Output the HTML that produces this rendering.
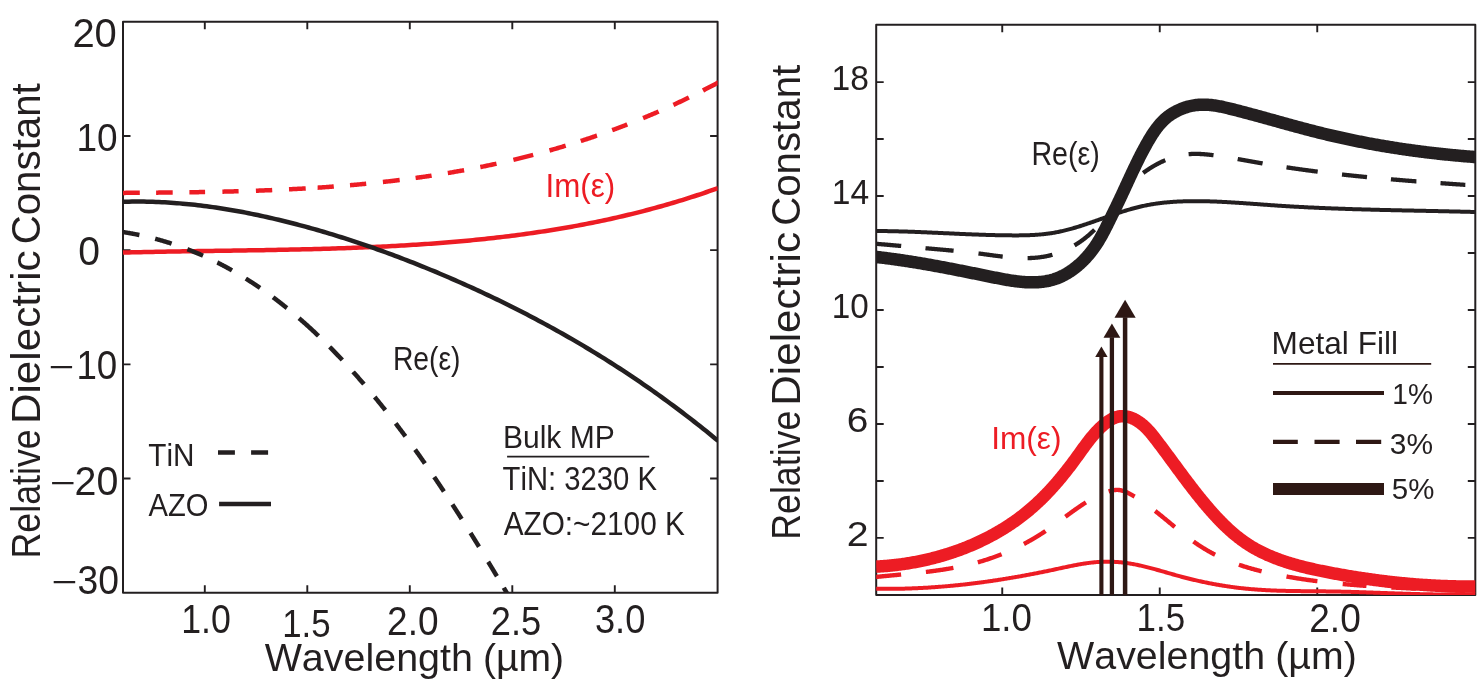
<!DOCTYPE html>
<html><head><meta charset="utf-8"><title>Relative Dielectric Constant</title>
<style>
html,body{margin:0;padding:0;background:#fff;}
body{width:1480px;height:682px;overflow:hidden;}
svg{display:block;font-family:"Liberation Sans",sans-serif;font-kerning:none;will-change:transform;}
text{font-kerning:none;}
</style></head>
<body>
<svg width="1480" height="682" viewBox="0 0 1480 682">
<rect width="1480" height="682" fill="#fff"/>
<rect x="123.0" y="21.8" width="594.6" height="570.9000000000001" fill="none" stroke="#231f20" stroke-width="2.0" stroke-linejoin="round"/>
<path d="M204.80,592.7 v-7.5 M204.80,21.8 v7.5 M307.30,592.7 v-7.5 M307.30,21.8 v7.5 M409.80,592.7 v-7.5 M409.80,21.8 v7.5 M512.30,592.7 v-7.5 M512.30,21.8 v7.5 M614.80,592.7 v-7.5 M614.80,21.8 v7.5 M123.0,135.97 h7.5 M717.6,135.97 h-7.5 M123.0,250.15 h7.5 M717.6,250.15 h-7.5 M123.0,364.33 h7.5 M717.6,364.33 h-7.5 M123.0,478.51 h7.5 M717.6,478.51 h-7.5" stroke="#231f20" stroke-width="1.9" fill="none"/>
<clipPath id="cl"><rect x="123.0" y="21.8" width="594.6" height="570.9000000000001"/></clipPath>
<g clip-path="url(#cl)">
<path d="M123.00,252.56 L125.99,252.49 L128.98,252.41 L131.97,252.34 L134.96,252.27 L137.95,252.20 L140.94,252.13 L143.93,252.06 L146.92,252.00 L149.91,251.94 L152.90,251.88 L155.89,251.82 L158.89,251.76 L161.88,251.71 L164.87,251.65 L167.86,251.60 L170.85,251.54 L173.84,251.49 L176.83,251.44 L179.82,251.39 L182.81,251.35 L185.80,251.30 L188.79,251.25 L191.78,251.20 L194.77,251.16 L197.76,251.11 L200.75,251.07 L203.74,251.03 L206.73,250.98 L209.72,250.94 L212.71,250.90 L215.70,250.85 L218.69,250.81 L221.68,250.77 L224.68,250.72 L227.67,250.68 L230.66,250.64 L233.65,250.59 L236.64,250.55 L239.63,250.51 L242.62,250.46 L245.61,250.42 L248.60,250.37 L251.59,250.32 L254.58,250.28 L257.57,250.23 L260.56,250.18 L263.55,250.13 L266.54,250.08 L269.53,250.02 L272.52,249.97 L275.51,249.92 L278.50,249.86 L281.49,249.80 L284.48,249.74 L287.47,249.68 L290.47,249.62 L293.46,249.56 L296.45,249.49 L299.44,249.43 L302.43,249.36 L305.42,249.29 L308.41,249.21 L311.40,249.14 L314.39,249.06 L317.38,248.98 L320.37,248.90 L323.36,248.82 L326.35,248.73 L329.34,248.64 L332.33,248.55 L335.32,248.46 L338.31,248.36 L341.30,248.26 L344.29,248.16 L347.28,248.06 L350.27,247.95 L353.26,247.84 L356.26,247.72 L359.25,247.61 L362.24,247.48 L365.23,247.36 L368.22,247.23 L371.21,247.10 L374.20,246.97 L377.19,246.83 L380.18,246.69 L383.17,246.54 L386.16,246.40 L389.15,246.24 L392.14,246.09 L395.13,245.93 L398.12,245.76 L401.11,245.59 L404.10,245.42 L407.09,245.24 L410.08,245.06 L413.07,244.87 L416.06,244.68 L419.05,244.49 L422.05,244.29 L425.04,244.08 L428.03,243.87 L431.02,243.66 L434.01,243.44 L437.00,243.22 L439.99,242.99 L442.98,242.75 L445.97,242.51 L448.96,242.27 L451.95,242.02 L454.94,241.76 L457.93,241.50 L460.92,241.24 L463.91,240.97 L466.90,240.69 L469.89,240.40 L472.88,240.12 L475.87,239.82 L478.86,239.52 L481.85,239.21 L484.84,238.90 L487.84,238.58 L490.83,238.25 L493.82,237.92 L496.81,237.58 L499.80,237.23 L502.79,236.88 L505.78,236.52 L508.77,236.15 L511.76,235.78 L514.75,235.40 L517.74,235.01 L520.73,234.61 L523.72,234.21 L526.71,233.80 L529.70,233.38 L532.69,232.96 L535.68,232.52 L538.67,232.08 L541.66,231.63 L544.65,231.18 L547.64,230.71 L550.63,230.24 L553.63,229.76 L556.62,229.27 L559.61,228.77 L562.60,228.26 L565.59,227.75 L568.58,227.23 L571.57,226.69 L574.56,226.15 L577.55,225.60 L580.54,225.04 L583.53,224.47 L586.52,223.90 L589.51,223.31 L592.50,222.71 L595.49,222.11 L598.48,221.49 L601.47,220.87 L604.46,220.23 L607.45,219.59 L610.44,218.93 L613.43,218.27 L616.42,217.59 L619.42,216.91 L622.41,216.21 L625.40,215.51 L628.39,214.79 L631.38,214.07 L634.37,213.33 L637.36,212.58 L640.35,211.82 L643.34,211.06 L646.33,210.28 L649.32,209.48 L652.31,208.68 L655.30,207.87 L658.29,207.04 L661.28,206.21 L664.27,205.36 L667.26,204.50 L670.25,203.63 L673.24,202.75 L676.23,201.86 L679.22,200.95 L682.21,200.03 L685.21,199.10 L688.20,198.16 L691.19,197.20 L694.18,196.24 L697.17,195.26 L700.16,194.27 L703.15,193.26 L706.14,192.25 L709.13,191.22 L712.12,190.17 L715.11,189.12 L718.10,188.05" fill="none" stroke="#ed1c24" stroke-width="4.5" stroke-linejoin="round"/>
<path d="M123.00,201.82 L125.99,201.73 L128.98,201.66 L131.97,201.61 L134.96,201.58 L137.95,201.57 L140.94,201.58 L143.93,201.61 L146.92,201.66 L149.91,201.73 L152.90,201.81 L155.89,201.91 L158.89,202.04 L161.88,202.18 L164.87,202.33 L167.86,202.51 L170.85,202.70 L173.84,202.91 L176.83,203.14 L179.82,203.38 L182.81,203.64 L185.80,203.92 L188.79,204.21 L191.78,204.52 L194.77,204.84 L197.76,205.19 L200.75,205.54 L203.74,205.91 L206.73,206.30 L209.72,206.70 L212.71,207.12 L215.70,207.55 L218.69,208.00 L221.68,208.46 L224.68,208.94 L227.67,209.43 L230.66,209.93 L233.65,210.45 L236.64,210.98 L239.63,211.53 L242.62,212.08 L245.61,212.66 L248.60,213.24 L251.59,213.84 L254.58,214.45 L257.57,215.07 L260.56,215.71 L263.55,216.36 L266.54,217.02 L269.53,217.69 L272.52,218.38 L275.51,219.08 L278.50,219.79 L281.49,220.51 L284.48,221.24 L287.47,221.98 L290.47,222.73 L293.46,223.50 L296.45,224.28 L299.44,225.06 L302.43,225.86 L305.42,226.67 L308.41,227.49 L311.40,228.32 L314.39,229.17 L317.38,230.02 L320.37,230.88 L323.36,231.76 L326.35,232.64 L329.34,233.54 L332.33,234.44 L335.32,235.36 L338.31,236.29 L341.30,237.23 L344.29,238.17 L347.28,239.13 L350.27,240.10 L353.26,241.08 L356.26,242.07 L359.25,243.07 L362.24,244.08 L365.23,245.10 L368.22,246.13 L371.21,247.16 L374.20,248.21 L377.19,249.27 L380.18,250.34 L383.17,251.42 L386.16,252.51 L389.15,253.60 L392.14,254.71 L395.13,255.83 L398.12,256.95 L401.11,258.09 L404.10,259.23 L407.09,260.39 L410.08,261.55 L413.07,262.72 L416.06,263.91 L419.05,265.10 L422.05,266.30 L425.04,267.51 L428.03,268.73 L431.02,269.96 L434.01,271.20 L437.00,272.44 L439.99,273.70 L442.98,274.97 L445.97,276.24 L448.96,277.53 L451.95,278.82 L454.94,280.13 L457.93,281.44 L460.92,282.76 L463.91,284.10 L466.90,285.44 L469.89,286.79 L472.88,288.16 L475.87,289.53 L478.86,290.91 L481.85,292.30 L484.84,293.70 L487.84,295.11 L490.83,296.53 L493.82,297.96 L496.81,299.40 L499.80,300.85 L502.79,302.31 L505.78,303.78 L508.77,305.27 L511.76,306.76 L514.75,308.26 L517.74,309.77 L520.73,311.29 L523.72,312.83 L526.71,314.37 L529.70,315.92 L532.69,317.49 L535.68,319.07 L538.67,320.66 L541.66,322.26 L544.65,323.87 L547.64,325.49 L550.63,327.13 L553.63,328.78 L556.62,330.44 L559.61,332.11 L562.60,333.79 L565.59,335.49 L568.58,337.20 L571.57,338.92 L574.56,340.65 L577.55,342.40 L580.54,344.16 L583.53,345.93 L586.52,347.71 L589.51,349.51 L592.50,351.33 L595.49,353.15 L598.48,354.99 L601.47,356.84 L604.46,358.71 L607.45,360.59 L610.44,362.48 L613.43,364.39 L616.42,366.32 L619.42,368.25 L622.41,370.20 L625.40,372.17 L628.39,374.15 L631.38,376.15 L634.37,378.16 L637.36,380.18 L640.35,382.22 L643.34,384.28 L646.33,386.35 L649.32,388.43 L652.31,390.53 L655.30,392.65 L658.29,394.78 L661.28,396.93 L664.27,399.09 L667.26,401.27 L670.25,403.47 L673.24,405.68 L676.23,407.91 L679.22,410.15 L682.21,412.41 L685.21,414.69 L688.20,416.98 L691.19,419.30 L694.18,421.62 L697.17,423.97 L700.16,426.33 L703.15,428.71 L706.14,431.11 L709.13,433.52 L712.12,435.95 L715.11,438.40 L718.10,440.87" fill="none" stroke="#231f20" stroke-width="4.5" stroke-linejoin="round"/>
<path d="M122.00,192.89 L123.00,192.89 L123.99,192.88 L124.99,192.88 L125.98,192.87 L126.97,192.86 L127.97,192.86 L128.96,192.85 L129.95,192.84 L130.95,192.84 L131.94,192.83 L132.93,192.82 L133.93,192.81 L134.92,192.81 L135.92,192.80 L136.91,192.79 L137.90,192.79 L138.90,192.78 L139.80,192.77 M156.10,192.64 L156.78,192.64 L157.77,192.63 L158.77,192.62 L159.76,192.61 L160.75,192.60 L161.75,192.59 L162.74,192.58 L163.73,192.57 L164.73,192.56 L165.72,192.55 L166.71,192.54 L167.71,192.53 L168.70,192.52 L169.69,192.51 L170.69,192.50 L171.68,192.49 L172.67,192.48 L172.70,192.48 M189.40,192.27 L189.56,192.27 L190.56,192.25 L191.55,192.24 L192.54,192.22 L193.54,192.21 L194.53,192.19 L195.52,192.18 L196.52,192.16 L197.51,192.15 L198.51,192.13 L199.50,192.11 L200.49,192.10 L201.49,192.08 L202.48,192.06 L203.47,192.05 L204.47,192.03 L205.10,192.02 M222.40,191.67 L223.34,191.64 L224.34,191.62 L225.33,191.60 L226.32,191.57 L227.32,191.55 L228.31,191.52 L229.30,191.50 L230.30,191.47 L231.29,191.45 L232.28,191.42 L233.28,191.40 L234.27,191.37 L235.26,191.34 L236.26,191.32 L237.25,191.29 L238.24,191.26 L238.60,191.25 M255.90,190.71 L256.13,190.70 L257.12,190.66 L258.11,190.63 L259.11,190.59 L260.10,190.56 L261.09,190.52 L262.09,190.48 L263.08,190.45 L264.08,190.41 L265.07,190.37 L266.06,190.33 L267.06,190.29 L268.05,190.25 L269.04,190.21 L270.04,190.17 L271.03,190.13 L272.02,190.09 L272.20,190.08 M289.00,189.31 L289.91,189.27 L290.90,189.22 L291.89,189.17 L292.89,189.11 L293.88,189.06 L294.87,189.01 L295.87,188.96 L296.86,188.90 L297.85,188.85 L298.85,188.80 L299.84,188.74 L300.83,188.68 L301.83,188.63 L302.82,188.57 L303.82,188.52 L304.81,188.46 L305.70,188.41 M317.60,187.66 L317.72,187.66 L318.72,187.59 L319.71,187.53 L320.70,187.46 L321.70,187.39 L322.69,187.32 L323.68,187.25 L324.68,187.19 L325.67,187.12 L326.67,187.05 L327.66,186.97 L328.65,186.90 L329.65,186.83 L330.64,186.76 L331.63,186.68 L332.63,186.61 L333.62,186.54 L333.80,186.52 M350.00,185.21 L350.51,185.17 L351.50,185.08 L352.50,184.99 L353.49,184.91 L354.48,184.82 L355.48,184.73 L356.47,184.64 L357.46,184.55 L358.46,184.46 L359.45,184.37 L360.44,184.27 L361.44,184.18 L362.43,184.09 L363.42,183.99 L364.42,183.90 L365.41,183.80 L366.20,183.72 M382.90,181.98 L383.29,181.94 L384.29,181.83 L385.28,181.72 L386.27,181.61 L387.27,181.49 L388.26,181.38 L389.26,181.27 L390.25,181.15 L391.24,181.04 L392.24,180.92 L393.23,180.80 L394.22,180.68 L395.22,180.56 L396.21,180.44 L397.20,180.32 L398.20,180.20 L399.19,180.08 L399.70,180.02 M415.60,177.94 L416.08,177.87 L417.07,177.74 L418.07,177.60 L419.06,177.46 L420.05,177.32 L421.05,177.18 L422.04,177.03 L423.03,176.89 L424.03,176.75 L425.02,176.60 L426.01,176.46 L427.01,176.31 L428.00,176.16 L428.99,176.02 L429.99,175.87 L430.98,175.72 L431.60,175.62 M447.80,173.04 L447.87,173.03 L448.86,172.86 L449.86,172.69 L450.85,172.52 L451.84,172.35 L452.84,172.18 L453.83,172.01 L454.83,171.84 L455.82,171.66 L456.81,171.49 L457.81,171.31 L458.80,171.14 L459.79,170.96 L460.79,170.78 L461.78,170.60 L462.77,170.42 L463.77,170.24 L464.10,170.18 M480.30,167.07 L480.66,167.00 L481.65,166.80 L482.64,166.59 L483.64,166.39 L484.63,166.19 L485.62,165.98 L486.62,165.78 L487.61,165.57 L488.60,165.36 L489.60,165.16 L490.59,164.95 L491.58,164.74 L492.58,164.52 L493.57,164.31 L494.56,164.10 L495.56,163.88 L496.50,163.68 M513.40,159.83 L513.44,159.82 L514.43,159.58 L515.43,159.34 L516.42,159.10 L517.42,158.86 L518.41,158.62 L519.40,158.38 L520.40,158.14 L521.39,157.89 L522.38,157.64 L523.38,157.40 L524.37,157.15 L525.36,156.90 L526.36,156.65 L527.35,156.40 L528.34,156.14 L529.34,155.89 L530.33,155.63 L531.32,155.38 L532.32,155.12 L533.20,154.89 M549.50,150.47 L550.20,150.27 L551.19,149.99 L552.19,149.71 L553.18,149.42 L554.17,149.14 L555.17,148.85 L556.16,148.56 L557.15,148.28 L558.15,147.99 L559.14,147.69 L560.14,147.40 L561.13,147.11 L562.12,146.81 L563.12,146.52 L564.11,146.22 L565.10,145.92 L565.70,145.74 M580.80,141.02 L581.00,140.95 L581.99,140.63 L582.99,140.31 L583.98,139.98 L584.97,139.66 L585.97,139.33 L586.96,139.00 L587.95,138.67 L588.95,138.34 L589.94,138.01 L590.93,137.68 L591.93,137.34 L592.92,137.00 L593.91,136.67 L594.91,136.33 L595.90,135.99 L596.89,135.64 L597.00,135.61 M612.20,130.19 L612.79,129.98 L613.78,129.61 L614.78,129.24 L615.77,128.87 L616.76,128.50 L617.76,128.13 L618.75,127.76 L619.74,127.38 L620.74,127.01 L621.73,126.63 L622.73,126.25 L623.72,125.87 L624.71,125.48 L625.71,125.10 L626.70,124.72 L627.30,124.48 M643.10,118.14 L643.59,117.94 L644.58,117.52 L645.58,117.11 L646.57,116.70 L647.56,116.28 L648.56,115.86 L649.55,115.44 L650.54,115.02 L651.54,114.60 L652.53,114.17 L653.52,113.74 L654.52,113.32 L655.51,112.89 L656.50,112.46 L657.50,112.02 L658.49,111.59 L658.60,111.54 M673.40,104.88 L674.39,104.43 L675.38,103.97 L676.37,103.50 L677.37,103.04 L678.36,102.57 L679.35,102.11 L680.35,101.64 L681.34,101.17 L682.33,100.69 L683.33,100.22 L684.32,99.74 L685.31,99.27 L686.31,98.79 L687.30,98.31 L688.30,97.82 L688.90,97.53 M703.00,90.49 L703.20,90.38 L704.19,89.88 L705.18,89.36 L706.18,88.85 L707.17,88.34 L708.17,87.82 L709.16,87.30 L710.15,86.78 L711.15,86.26 L712.14,85.74 L713.13,85.21 L714.13,84.69 L715.12,84.16 L716.11,83.63 L717.11,83.10 L718.10,82.56 L719.00,82.56" fill="none" stroke="#ed1c24" stroke-width="4.5" stroke-linejoin="round"/>
<path d="M122.00,231.94 L122.25,231.94 L122.96,232.05 L123.67,232.16 L124.38,232.27 L125.08,232.38 L125.79,232.50 L126.50,232.61 L127.20,232.73 L127.91,232.85 L128.61,232.97 L129.32,233.09 L130.02,233.21 L130.72,233.34 L131.42,233.47 L132.12,233.59 L132.82,233.72 L133.52,233.85 L134.22,233.99 L134.92,234.12 L135.61,234.26 L136.31,234.39 L137.00,234.53 L137.70,234.67 L138.39,234.81 L139.08,234.96 L139.40,235.02 M155.20,238.76 L155.48,238.84 L156.15,239.02 L156.82,239.20 L157.49,239.38 L158.16,239.56 L158.84,239.75 L159.50,239.94 L160.17,240.13 L160.84,240.32 L161.51,240.51 L162.18,240.70 L162.84,240.89 L163.51,241.09 L164.17,241.29 L164.83,241.48 L165.50,241.68 L166.16,241.88 L166.82,242.09 L167.48,242.29 L168.14,242.50 L168.80,242.70 L169.46,242.91 L170.12,243.12 L170.77,243.33 L171.43,243.54 L171.60,243.60 M187.40,249.21 L187.60,249.28 L188.24,249.53 L188.87,249.78 L189.51,250.03 L190.14,250.28 L190.78,250.53 L191.41,250.78 L192.04,251.04 L192.68,251.30 L193.31,251.55 L193.94,251.81 L194.57,252.07 L195.20,252.33 L195.83,252.59 L196.46,252.86 L197.08,253.12 L197.71,253.39 L198.34,253.65 L198.96,253.92 L199.59,254.19 L200.21,254.46 L200.83,254.74 L201.46,255.01 L202.08,255.28 L202.70,255.56 L203.00,255.69 M217.30,262.50 L217.40,262.54 L218.00,262.85 L218.60,263.16 L219.21,263.47 L219.81,263.78 L220.41,264.09 L221.01,264.40 L221.61,264.71 L222.21,265.02 L222.81,265.34 L223.41,265.66 L224.00,265.97 L224.60,266.29 L225.20,266.61 L225.79,266.93 L226.39,267.25 L226.98,267.58 L227.57,267.90 L228.17,268.23 L228.76,268.55 L229.35,268.88 L229.94,269.21 L230.53,269.54 L231.12,269.87 L231.71,270.20 L232.00,270.37 M245.80,278.59 L246.21,278.84 L246.78,279.20 L247.36,279.56 L247.93,279.93 L248.50,280.29 L249.06,280.65 L249.63,281.02 L250.20,281.38 L250.77,281.75 L251.34,282.12 L251.90,282.48 L252.47,282.85 L253.03,283.22 L253.60,283.60 L254.16,283.97 L254.72,284.34 L255.29,284.72 L255.85,285.09 L256.41,285.47 L256.97,285.85 L257.53,286.22 L258.09,286.60 L258.65,286.98 L259.21,287.36 L259.76,287.75 L260.10,287.98 M273.10,297.30 L273.50,297.61 L274.04,298.01 L274.59,298.42 L275.13,298.83 L275.67,299.24 L276.21,299.65 L276.74,300.06 L277.28,300.47 L277.82,300.88 L278.36,301.29 L278.89,301.71 L279.43,302.12 L279.96,302.54 L280.50,302.95 L281.03,303.37 L281.57,303.79 L282.10,304.21 L282.63,304.63 L283.16,305.05 L283.70,305.47 L284.23,305.89 L284.76,306.32 L285.29,306.74 L285.81,307.17 L286.34,307.59 L286.87,308.02 L286.90,308.04 M299.00,318.18 L299.37,318.50 L299.88,318.94 L300.39,319.39 L300.91,319.84 L301.42,320.29 L301.93,320.74 L302.44,321.19 L302.95,321.64 L303.46,322.09 L303.97,322.54 L304.48,322.99 L304.99,323.45 L305.50,323.90 L306.00,324.36 L306.51,324.81 L307.02,325.27 L307.52,325.72 L308.03,326.18 L308.53,326.64 L309.04,327.10 L309.54,327.56 L310.04,328.02 L310.54,328.48 L311.05,328.94 L311.55,329.41 L312.05,329.87 L312.55,330.33 L313.05,330.80 L313.55,331.26 L314.05,331.73 L314.54,332.20 L315.04,332.66 L315.54,333.13 L316.03,333.60 L316.53,334.07 L317.03,334.54 L317.52,335.01 L318.01,335.48 L318.50,335.95 M329.70,346.95 L329.73,346.98 L330.21,347.47 L330.69,347.95 L331.17,348.44 L331.65,348.93 L332.13,349.42 L332.61,349.91 L333.09,350.40 L333.57,350.89 L334.04,351.38 L334.52,351.87 L335.00,352.36 L335.47,352.86 L335.95,353.35 L336.42,353.84 L336.90,354.34 L337.37,354.83 L337.85,355.33 L338.32,355.82 L338.79,356.32 L339.26,356.82 L339.74,357.32 L340.21,357.81 L340.68,358.31 L341.15,358.81 L341.62,359.31 L342.09,359.81 L342.30,360.04 M353.10,371.83 L353.21,371.96 L353.67,372.47 L354.13,372.98 L354.58,373.49 L355.04,374.01 L355.49,374.52 L355.95,375.04 L356.41,375.55 L356.86,376.06 L357.31,376.58 L357.77,377.10 L358.22,377.61 L358.67,378.13 L359.13,378.64 L359.58,379.16 L360.03,379.68 L360.48,380.20 L360.93,380.72 L361.38,381.23 L361.83,381.75 L362.28,382.27 L362.73,382.79 L363.17,383.31 L363.62,383.83 L363.90,384.16 M374.70,397.00 L375.11,397.50 L375.55,398.03 L375.98,398.56 L376.42,399.09 L376.85,399.62 L377.29,400.16 L377.72,400.69 L378.16,401.22 L378.59,401.75 L379.02,402.29 L379.46,402.82 L379.89,403.35 L380.32,403.89 L380.75,404.42 L381.18,404.96 L381.61,405.49 L382.04,406.03 L382.47,406.56 L382.90,407.10 L383.33,407.63 L383.76,408.17 L384.19,408.71 L384.61,409.24 L385.04,409.78 L385.30,410.11 M395.70,423.46 L396.01,423.86 L396.43,424.41 L396.84,424.96 L397.26,425.50 L397.68,426.05 L398.09,426.59 L398.51,427.14 L398.92,427.69 L399.33,428.24 L399.75,428.78 L400.16,429.33 L400.57,429.88 L400.99,430.43 L401.40,430.98 L401.81,431.53 L402.22,432.08 L402.63,432.63 L403.05,433.18 L403.46,433.73 L403.87,434.28 L404.28,434.83 L404.69,435.38 L405.09,435.93 L405.40,436.34 M415.10,449.64 L415.21,449.79 L415.61,450.34 L416.01,450.90 L416.40,451.46 L416.80,452.02 L417.20,452.58 L417.60,453.14 L418.00,453.69 L418.40,454.25 L418.79,454.81 L419.19,455.37 L419.59,455.93 L419.98,456.49 L420.38,457.05 L420.78,457.61 L421.17,458.17 L421.57,458.73 L421.96,459.29 L422.36,459.85 L422.75,460.42 L423.14,460.98 L423.54,461.54 L423.93,462.10 L424.32,462.66 L424.71,463.22 L424.90,463.49 M434.20,477.01 L434.43,477.34 L434.81,477.91 L435.19,478.48 L435.58,479.04 L435.96,479.61 L436.35,480.18 L436.73,480.75 L437.11,481.31 L437.49,481.88 L437.88,482.45 L438.26,483.02 L438.64,483.59 L439.02,484.16 L439.40,484.72 L439.78,485.29 L440.16,485.86 L440.54,486.43 L440.92,487.00 L441.30,487.57 L441.68,488.14 L442.06,488.71 L442.44,489.28 L442.82,489.85 L443.20,490.42 L443.57,490.99 L443.90,491.48 M452.40,504.47 L452.56,504.72 L452.94,505.29 L453.31,505.87 L453.68,506.44 L454.05,507.02 L454.42,507.59 L454.79,508.16 L455.16,508.74 L455.53,509.31 L455.90,509.89 L456.27,510.46 L456.64,511.04 L457.00,511.61 L457.37,512.18 L457.74,512.76 L458.11,513.33 L458.48,513.91 L458.84,514.48 L459.21,515.06 L459.58,515.63 L459.94,516.21 L460.31,516.79 L460.68,517.36 L461.04,517.94 L461.41,518.51 L461.70,518.97 M470.50,532.97 L470.84,533.51 L471.19,534.08 L471.55,534.66 L471.91,535.24 L472.27,535.82 L472.63,536.39 L472.99,536.97 L473.35,537.55 L473.71,538.13 L474.06,538.70 L474.42,539.28 L474.78,539.86 L475.14,540.44 L475.49,541.02 L475.85,541.59 L476.21,542.17 L476.56,542.75 L476.92,543.33 L477.28,543.91 L477.63,544.48 L477.99,545.06 L478.34,545.64 L478.70,546.22 L479.00,546.71 M488.20,561.80 L488.22,561.83 L488.57,562.41 L488.92,562.99 L489.27,563.57 L489.62,564.15 L489.97,564.72 L490.32,565.30 L490.67,565.88 L491.02,566.46 L491.37,567.04 L491.72,567.62 L492.06,568.19 L492.41,568.77 L492.76,569.35 L493.11,569.93 L493.46,570.51 L493.80,571.08 L494.15,571.66 L494.50,572.24 L494.85,572.82 L495.19,573.40 L495.54,573.97 L495.89,574.55 L496.23,575.13 L496.58,575.71 L496.90,576.24 M503.80,587.79 L503.82,587.83 L504.17,588.41 L504.51,588.98 L504.85,589.56 L505.19,590.14 L505.54,590.71 L505.88,591.29 L506.22,591.87 L506.57,592.44 L506.91,593.02 L507.25,593.59 L507.50,593.59" fill="none" stroke="#231f20" stroke-width="4.5" stroke-linejoin="round"/>
</g>
<text transform="translate(72.39,47.30) scale(1.0038,1)" font-size="39.83" fill="#231f20">20</text>
<text transform="translate(76.38,150.71) scale(0.9391,1)" font-size="39.41" fill="#231f20">10</text>
<text transform="translate(78.17,265.30) scale(0.9684,1)" font-size="40.40" fill="#231f20">0</text>
<text transform="translate(76.40,379.40) scale(0.9119,1)" font-size="40.25" fill="#231f20">10</text>
<text transform="translate(74.52,494.60) scale(0.9891,1)" font-size="39.83" fill="#231f20">20</text>
<text transform="translate(77.48,593.50) scale(0.9263,1)" font-size="40.25" fill="#231f20">30</text>
<path d="M50.8,367.1 H72.1 M52.1,483.1 H73.5 M53.7,582.1 H75.2" stroke="#231f20" stroke-width="2.1"/>
<text transform="translate(181.18,632.60) scale(0.8835,1)" font-size="40.40" fill="#231f20">1.0</text>
<text transform="translate(282.15,636.50) scale(0.8775,1)" font-size="39.69" fill="#231f20">1.5</text>
<text transform="translate(387.04,635.10) scale(0.9303,1)" font-size="39.83" fill="#231f20">2.0</text>
<text transform="translate(490.87,635.20) scale(0.9079,1)" font-size="39.97" fill="#231f20">2.5</text>
<text transform="translate(594.92,633.30) scale(0.9102,1)" font-size="39.83" fill="#231f20">3.0</text>
<text transform="translate(264.63,671.00) scale(1.0016,1)" font-size="39.39" fill="#231f20">Wavelength</text>
<text transform="translate(482.88,671.00) scale(0.9928,1)" font-size="39.39" fill="#231f20">(µm)</text>
<text transform="translate(40.20,558.53) rotate(-90) scale(0.8852,1)" font-size="40.41" fill="#231f20">Relative</text>
<text transform="translate(40.20,424.07) rotate(-90) scale(1.0460,1)" font-size="40.41" fill="#231f20">Dielectric</text>
<text transform="translate(40.20,244.34) rotate(-90) scale(0.9964,1)" font-size="40.41" fill="#231f20">Constant</text>
<text transform="translate(545.51,196.90) scale(0.9412,1)" font-size="33.28" fill="#ed1c24">Im(ε)</text>
<text transform="translate(392.88,370.40) scale(0.8620,1)" font-size="32.85" fill="#231f20">Re(ε)</text>
<text transform="translate(148.33,466.40) scale(0.9288,1)" font-size="31.98" fill="#231f20">TiN</text>
<text transform="translate(148.44,516.30) scale(0.9204,1)" font-size="31.69" fill="#231f20">AZO</text>
<text transform="translate(502.94,447.70) scale(0.9352,1)" font-size="32.12" fill="#231f20">Bulk MP</text>
<text transform="translate(502.54,489.50) scale(0.8867,1)" font-size="32.99" fill="#231f20">TiN: 3230 K</text>
<text transform="translate(503.64,534.90) scale(0.9067,1)" font-size="32.85" fill="#231f20">AZO:~2100 K</text>
<path d="M507.1,456.6 H649.2" stroke="#231f20" stroke-width="1.7"/>
<path d="M218,452.5 H234.9 M251.1,452.5 H268.1" stroke="#231f20" stroke-width="4.6"/>
<path d="M219.1,504 H271" stroke="#231f20" stroke-width="4.3"/>
<rect x="876.2" y="24.8" width="599.0999999999999" height="570.2" fill="none" stroke="#231f20" stroke-width="2.0" stroke-linejoin="round"/>
<path d="M1002.25,595.0 v-7.5 M1002.25,24.8 v7.5 M1159.75,595.0 v-7.5 M1159.75,24.8 v7.5 M1317.25,595.0 v-7.5 M1317.25,24.8 v7.5 M876.2,537.92 h7.5 M1475.3,537.92 h-7.5 M876.2,480.94 h7.5 M1475.3,480.94 h-7.5 M876.2,423.96 h7.5 M1475.3,423.96 h-7.5 M876.2,366.98 h7.5 M1475.3,366.98 h-7.5 M876.2,310.00 h7.5 M1475.3,310.00 h-7.5 M876.2,253.02 h7.5 M1475.3,253.02 h-7.5 M876.2,196.04 h7.5 M1475.3,196.04 h-7.5 M876.2,139.06 h7.5 M1475.3,139.06 h-7.5 M876.2,82.08 h7.5 M1475.3,82.08 h-7.5" stroke="#231f20" stroke-width="1.9" fill="none"/>
<clipPath id="cr"><rect x="876.2" y="24.8" width="599.0999999999999" height="570.2"/></clipPath>
<g clip-path="url(#cr)">
<path d="M875.95,588.71 L876.97,588.73 L877.99,588.75 L879.01,588.77 L880.03,588.78 L881.05,588.79 L882.06,588.80 L883.08,588.81 L884.10,588.82 L885.12,588.83 L886.13,588.83 L887.15,588.83 L888.17,588.84 L889.18,588.83 L890.20,588.83 L891.21,588.83 L892.23,588.82 L893.25,588.81 L894.26,588.81 L895.28,588.80 L896.29,588.78 L897.30,588.77 L898.32,588.75 L899.33,588.74 L900.35,588.72 L901.36,588.70 L902.37,588.68 L903.39,588.65 L904.40,588.63 L905.41,588.60 L906.43,588.57 L907.44,588.54 L908.45,588.51 L909.46,588.48 L910.48,588.45 L911.49,588.41 L912.50,588.37 L913.51,588.33 L914.52,588.29 L915.53,588.25 L916.54,588.21 L917.55,588.16 L918.56,588.11 L919.57,588.07 L920.58,588.02 L921.59,587.97 L922.60,587.91 L923.61,587.86 L924.62,587.80 L925.63,587.75 L926.64,587.69 L927.65,587.63 L928.66,587.57 L929.66,587.50 L930.67,587.44 L931.68,587.37 L932.69,587.30 L933.69,587.23 L934.70,587.16 L935.71,587.09 L936.72,587.02 L937.72,586.94 L938.73,586.87 L939.74,586.79 L940.74,586.71 L941.75,586.63 L942.75,586.55 L943.76,586.47 L944.77,586.38 L945.77,586.29 L946.78,586.21 L947.78,586.12 L948.79,586.03 L949.79,585.94 L950.80,585.84 L951.80,585.75 L952.80,585.65 L953.81,585.56 L954.81,585.46 L955.82,585.36 L956.82,585.26 L957.82,585.15 L958.83,585.05 L959.83,584.94 L960.83,584.84 L961.84,584.73 L962.84,584.62 L963.84,584.51 L964.84,584.40 L965.85,584.29 L966.85,584.17 L967.85,584.05 L968.85,583.94 L969.85,583.82 L970.86,583.70 L971.86,583.58 L972.86,583.46 L973.86,583.33 L974.86,583.21 L975.86,583.08 L976.86,582.95 L977.86,582.83 L978.86,582.70 L979.86,582.56 L980.86,582.43 L981.86,582.30 L982.86,582.16 L983.86,582.03 L984.86,581.89 L985.86,581.75 L986.86,581.61 L987.86,581.47 L988.86,581.33 L989.86,581.19 L990.86,581.04 L991.86,580.90 L992.85,580.75 L993.85,580.60 L994.85,580.45 L995.85,580.30 L996.85,580.15 L997.85,580.00 L998.84,579.84 L999.84,579.69 L1000.84,579.53 L1001.84,579.37 L1002.83,579.21 L1003.83,579.05 L1004.83,578.89 L1005.83,578.73 L1006.82,578.57 L1007.82,578.40 L1008.82,578.24 L1009.81,578.07 L1010.81,577.90 L1011.80,577.74 L1012.80,577.57 L1013.80,577.39 L1014.79,577.22 L1015.79,577.05 L1016.79,576.88 L1017.78,576.70 L1018.78,576.52 L1019.77,576.35 L1020.77,576.17 L1021.76,575.99 L1022.76,575.81 L1023.75,575.63 L1024.75,575.44 L1025.74,575.26 L1026.74,575.07 L1027.73,574.89 L1028.73,574.70 L1029.72,574.51 L1030.72,574.32 L1031.71,574.13 L1032.71,573.94 L1033.70,573.75 L1034.69,573.56 L1035.69,573.36 L1036.68,573.17 L1037.68,572.97 L1038.67,572.78 L1039.66,572.58 L1040.66,572.38 L1041.65,572.18 L1042.64,571.98 L1043.64,571.78 L1044.63,571.57 L1045.62,571.37 L1046.62,571.17 L1047.61,570.96 L1048.60,570.75 L1049.60,570.55 L1050.59,570.34 L1051.58,570.13 L1052.58,569.92 L1053.57,569.71 L1054.56,569.49 L1055.55,569.28 L1056.55,569.07 L1057.54,568.85 L1058.53,568.64 L1059.52,568.42 L1060.52,568.21 L1061.51,567.99 L1062.50,567.78 L1063.49,567.57 L1064.48,567.35 L1065.48,567.14 L1066.47,566.93 L1067.46,566.72 L1068.45,566.51 L1069.44,566.31 L1070.43,566.10 L1071.43,565.90 L1072.42,565.70 L1073.41,565.51 L1074.40,565.31 L1075.39,565.12 L1076.38,564.93 L1077.38,564.75 L1078.37,564.57 L1079.36,564.39 L1080.35,564.21 L1081.34,564.05 L1082.33,563.88 L1083.32,563.72 L1084.31,563.56 L1085.30,563.41 L1086.30,563.26 L1087.29,563.12 L1088.28,562.99 L1089.27,562.86 L1090.26,562.73 L1091.25,562.62 L1092.24,562.50 L1093.23,562.40 L1094.22,562.30 L1095.21,562.21 L1096.20,562.12 L1097.19,562.04 L1098.18,561.97 L1099.17,561.91 L1100.17,561.85 L1101.16,561.80 L1102.15,561.76 L1103.14,561.73 L1104.13,561.70 L1105.12,561.68 L1106.11,561.67 L1107.10,561.67 L1108.09,561.67 L1109.08,561.68 L1110.07,561.70 L1111.06,561.72 L1112.05,561.76 L1113.04,561.79 L1114.03,561.84 L1115.02,561.89 L1116.01,561.95 L1117.00,562.02 L1117.99,562.10 L1118.98,562.18 L1119.97,562.26 L1120.96,562.36 L1121.95,562.46 L1122.94,562.57 L1123.93,562.69 L1124.92,562.81 L1125.91,562.94 L1126.90,563.08 L1127.89,563.22 L1128.88,563.37 L1129.87,563.53 L1130.86,563.69 L1131.85,563.86 L1132.84,564.04 L1133.83,564.22 L1134.83,564.41 L1135.82,564.60 L1136.81,564.80 L1137.80,565.01 L1138.79,565.22 L1139.78,565.43 L1140.77,565.65 L1141.76,565.88 L1142.75,566.11 L1143.74,566.34 L1144.73,566.58 L1145.72,566.82 L1146.71,567.07 L1147.70,567.32 L1148.69,567.57 L1149.68,567.83 L1150.67,568.09 L1151.66,568.35 L1152.65,568.62 L1153.64,568.88 L1154.63,569.15 L1155.62,569.43 L1156.61,569.70 L1157.61,569.98 L1158.60,570.26 L1159.59,570.54 L1160.58,570.82 L1161.57,571.10 L1162.56,571.38 L1163.55,571.67 L1164.54,571.95 L1165.53,572.23 L1166.52,572.52 L1167.51,572.80 L1168.51,573.09 L1169.50,573.37 L1170.49,573.66 L1171.48,573.94 L1172.47,574.22 L1173.46,574.51 L1174.45,574.79 L1175.45,575.06 L1176.44,575.34 L1177.43,575.62 L1178.42,575.89 L1179.41,576.16 L1180.40,576.43 L1181.40,576.70 L1182.39,576.96 L1183.38,577.22 L1184.37,577.48 L1185.36,577.74 L1186.36,578.00 L1187.35,578.25 L1188.34,578.50 L1189.33,578.75 L1190.33,578.99 L1191.32,579.23 L1192.31,579.47 L1193.30,579.71 L1194.30,579.94 L1195.29,580.18 L1196.28,580.41 L1197.28,580.63 L1198.27,580.86 L1199.26,581.08 L1200.26,581.30 L1201.25,581.52 L1202.24,581.74 L1203.24,581.95 L1204.23,582.16 L1205.22,582.37 L1206.22,582.57 L1207.21,582.77 L1208.21,582.97 L1209.20,583.17 L1210.19,583.36 L1211.19,583.56 L1212.18,583.75 L1213.18,583.93 L1214.17,584.12 L1215.17,584.30 L1216.16,584.48 L1217.16,584.66 L1218.15,584.83 L1219.15,585.00 L1220.14,585.17 L1221.14,585.34 L1222.13,585.50 L1223.13,585.66 L1224.12,585.82 L1225.12,585.98 L1226.11,586.13 L1227.11,586.28 L1228.11,586.43 L1229.10,586.58 L1230.10,586.72 L1231.10,586.86 L1232.09,587.00 L1233.09,587.14 L1234.09,587.27 L1235.08,587.40 L1236.08,587.53 L1237.08,587.65 L1238.07,587.77 L1239.07,587.89 L1240.07,588.01 L1241.07,588.12 L1242.07,588.23 L1243.06,588.34 L1244.06,588.45 L1245.06,588.55 L1246.06,588.65 L1247.06,588.75 L1248.06,588.85 L1249.05,588.94 L1250.05,589.03 L1251.05,589.12 L1252.05,589.20 L1253.05,589.28 L1254.05,589.36 L1255.05,589.44 L1256.05,589.52 L1257.05,589.59 L1258.05,589.66 L1259.05,589.73 L1260.05,589.80 L1261.05,589.86 L1262.05,589.92 L1263.05,589.98 L1264.05,590.04 L1265.05,590.10 L1266.06,590.15 L1267.06,590.20 L1268.06,590.25 L1269.06,590.30 L1270.06,590.35 L1271.06,590.39 L1272.06,590.44 L1273.07,590.48 L1274.07,590.52 L1275.07,590.56 L1276.07,590.59 L1277.08,590.63 L1278.08,590.66 L1279.08,590.69 L1280.08,590.73 L1281.09,590.75 L1282.09,590.78 L1283.09,590.81 L1284.10,590.84 L1285.10,590.86 L1286.10,590.89 L1287.11,590.91 L1288.11,590.93 L1289.11,590.95 L1290.12,590.97 L1291.12,590.99 L1292.13,591.01 L1293.13,591.02 L1294.14,591.04 L1295.14,591.05 L1296.14,591.07 L1297.15,591.08 L1298.15,591.10 L1299.16,591.11 L1300.16,591.12 L1301.17,591.13 L1302.17,591.14 L1303.18,591.16 L1304.19,591.17 L1305.19,591.18 L1306.20,591.19 L1307.20,591.19 L1308.21,591.20 L1309.21,591.21 L1310.22,591.22 L1311.23,591.23 L1312.23,591.24 L1313.24,591.25 L1314.25,591.26 L1315.25,591.27 L1316.26,591.27 L1317.27,591.28 L1318.27,591.29 L1319.28,591.30 L1320.29,591.31 L1321.29,591.32 L1322.30,591.33 L1323.31,591.34 L1324.32,591.35 L1325.32,591.37 L1326.33,591.38 L1327.34,591.39 L1328.35,591.40 L1329.35,591.42 L1330.36,591.43 L1331.37,591.45 L1332.38,591.46 L1333.39,591.48 L1334.39,591.50 L1335.40,591.52 L1336.41,591.53 L1337.42,591.55 L1338.43,591.58 L1339.44,591.60 L1340.45,591.62 L1341.45,591.64 L1342.46,591.66 L1343.47,591.69 L1344.48,591.71 L1345.49,591.74 L1346.50,591.76 L1347.51,591.79 L1348.52,591.82 L1349.53,591.85 L1350.54,591.87 L1351.55,591.90 L1352.56,591.93 L1353.57,591.96 L1354.58,591.99 L1355.59,592.02 L1356.60,592.05 L1357.61,592.08 L1358.62,592.12 L1359.63,592.15 L1360.64,592.18 L1361.65,592.21 L1362.66,592.25 L1363.67,592.28 L1364.68,592.31 L1365.69,592.35 L1366.70,592.38 L1367.71,592.42 L1368.72,592.45 L1369.73,592.49 L1370.74,592.52 L1371.75,592.56 L1372.76,592.59 L1373.78,592.63 L1374.79,592.66 L1375.80,592.70 L1376.81,592.74 L1377.82,592.77 L1378.83,592.81 L1379.84,592.84 L1380.85,592.88 L1381.87,592.92 L1382.88,592.95 L1383.89,592.99 L1384.90,593.03 L1385.91,593.06 L1386.92,593.10 L1387.94,593.13 L1388.95,593.17 L1389.96,593.21 L1390.97,593.24 L1391.98,593.28 L1393.00,593.31 L1394.01,593.35 L1395.02,593.38 L1396.03,593.42 L1397.05,593.45 L1398.06,593.48 L1399.07,593.52 L1400.08,593.55 L1401.09,593.58 L1402.11,593.62 L1403.12,593.65 L1404.13,593.68 L1405.14,593.71 L1406.16,593.75 L1407.17,593.78 L1408.18,593.81 L1409.20,593.84 L1410.21,593.87 L1411.22,593.90 L1412.23,593.93 L1413.25,593.95 L1414.26,593.98 L1415.27,594.01 L1416.29,594.04 L1417.30,594.06 L1418.31,594.09 L1419.32,594.11 L1420.34,594.14 L1421.35,594.16 L1422.36,594.18 L1423.38,594.20 L1424.39,594.23 L1425.40,594.25 L1426.42,594.27 L1427.43,594.29 L1428.44,594.30 L1429.46,594.32 L1430.47,594.34 L1431.48,594.36 L1432.50,594.37 L1433.51,594.38 L1434.52,594.40 L1435.54,594.41 L1436.55,594.42 L1437.56,594.43 L1438.58,594.44 L1439.59,594.45 L1440.60,594.46 L1441.62,594.47 L1442.63,594.47 L1443.65,594.48 L1444.66,594.48 L1445.67,594.49 L1446.69,594.49 L1447.70,594.49 L1448.71,594.49 L1449.73,594.49 L1450.74,594.48 L1451.76,594.48 L1452.77,594.48 L1453.78,594.47 L1454.80,594.46 L1455.81,594.45 L1456.82,594.44 L1457.84,594.43 L1458.85,594.42 L1459.87,594.41 L1460.88,594.39 L1461.89,594.38 L1462.91,594.36 L1463.92,594.34 L1464.93,594.32 L1465.95,594.30 L1466.96,594.28 L1467.98,594.25 L1468.99,594.23 L1470.00,594.20 L1471.02,594.17 L1472.03,594.14 L1473.04,594.11 L1474.06,594.07 L1475.07,594.04 L1476.09,594.00" fill="none" stroke="#ed1c24" stroke-width="4.0" stroke-linejoin="round"/>
<path d="M875.00,576.94 L875.91,576.94 L876.63,576.87 L877.34,576.79 L878.06,576.72 L878.78,576.65 L879.49,576.58 L880.21,576.51 L880.92,576.44 L881.64,576.37 L882.36,576.30 L883.08,576.23 L883.79,576.16 L884.51,576.10 L885.23,576.03 L885.94,575.96 L886.66,575.89 L887.38,575.82 L888.10,575.75 L888.81,575.69 L889.53,575.62 L890.25,575.55 L890.97,575.48 L891.68,575.42 L892.40,575.35 L893.12,575.28 L893.84,575.22 L894.55,575.15 L895.27,575.08 L895.99,575.01 L896.71,574.95 L897.43,574.88 L898.14,574.81 L898.86,574.74 L899.58,574.68 L900.30,574.61 L901.01,574.54 L901.10,574.53 M925.90,571.94 L926.08,571.92 L926.80,571.83 L927.51,571.74 L928.22,571.66 L928.94,571.57 L929.65,571.48 L930.36,571.39 L931.08,571.30 L931.79,571.21 L932.50,571.11 L933.21,571.02 L933.92,570.93 L934.63,570.83 L935.35,570.73 L936.06,570.63 L936.77,570.54 L937.48,570.44 L938.19,570.34 L938.90,570.23 L939.61,570.13 L940.31,570.03 L941.02,569.92 L941.73,569.81 L942.44,569.71 L943.15,569.60 L943.85,569.49 L944.56,569.38 L945.27,569.26 L945.98,569.15 L946.68,569.03 L947.39,568.92 L948.09,568.80 L948.80,568.68 L949.50,568.56 L950.21,568.44 L950.91,568.31 L951.61,568.19 L952.32,568.06 L953.02,567.94 L953.40,567.87 M977.80,562.29 L978.03,562.23 L978.72,562.03 L979.40,561.84 L980.09,561.64 L980.77,561.44 L981.46,561.24 L982.14,561.03 L982.82,560.83 L983.50,560.62 L984.18,560.41 L984.86,560.20 L985.54,559.98 L986.22,559.77 L986.90,559.55 L987.58,559.33 L988.26,559.10 L988.93,558.88 L989.61,558.65 L990.28,558.42 L990.96,558.19 L991.63,557.96 L992.31,557.72 L992.98,557.49 L993.65,557.25 L994.32,557.01 L994.99,556.76 L995.66,556.52 L996.33,556.27 L997.00,556.02 L997.67,555.77 L998.33,555.51 L999.00,555.26 L999.67,555.00 L1000.33,554.74 L1001.00,554.48 L1001.60,554.24 M1023.90,543.95 L1024.39,543.69 L1025.03,543.35 L1025.66,543.01 L1026.29,542.67 L1026.93,542.32 L1027.56,541.98 L1028.19,541.63 L1028.82,541.28 L1029.44,540.93 L1030.07,540.58 L1030.70,540.22 L1031.32,539.86 L1031.95,539.51 L1032.57,539.14 L1033.19,538.78 L1033.81,538.41 L1034.43,538.05 L1035.05,537.68 L1035.67,537.31 L1036.29,536.93 L1036.90,536.56 L1037.52,536.18 L1038.13,535.80 L1038.75,535.42 L1039.36,535.04 L1039.97,534.65 L1040.58,534.26 L1041.19,533.87 L1041.80,533.48 L1042.41,533.09 L1043.01,532.69 L1043.62,532.30 L1044.22,531.90 L1044.82,531.49 L1045.43,531.09 L1045.50,531.04 M1065.40,516.72 L1065.48,516.66 L1066.06,516.23 L1066.65,515.80 L1067.23,515.37 L1067.82,514.94 L1068.40,514.51 L1068.99,514.08 L1069.57,513.65 L1070.16,513.22 L1070.75,512.80 L1071.33,512.37 L1071.92,511.95 L1072.51,511.52 L1073.09,511.10 L1073.68,510.68 L1074.27,510.26 L1074.86,509.84 L1075.45,509.43 L1076.04,509.01 L1076.63,508.60 L1077.22,508.19 L1077.81,507.78 L1078.41,507.37 L1079.00,506.96 L1079.59,506.56 L1080.19,506.15 L1080.79,505.75 L1081.38,505.35 L1081.98,504.96 L1082.58,504.56 L1083.18,504.17 L1083.78,503.78 L1084.38,503.40 L1084.99,503.01 L1085.59,502.63 L1085.90,502.43 M1108.60,491.44 L1109.02,491.31 L1109.69,491.11 L1110.36,490.92 L1111.04,490.74 L1111.71,490.57 L1112.39,490.42 L1113.07,490.28 L1113.75,490.17 L1114.43,490.07 L1115.11,489.99 L1115.79,489.93 L1116.48,489.90 L1117.16,489.89 L1117.84,489.91 L1118.53,489.96 L1119.21,490.04 L1119.90,490.14 L1120.58,490.26 L1121.26,490.41 L1121.95,490.58 L1122.63,490.77 L1123.31,490.98 L1123.99,491.21 L1124.67,491.46 L1125.34,491.73 L1126.02,492.01 L1126.69,492.31 L1127.36,492.62 L1128.03,492.94 L1128.70,493.27 L1129.37,493.62 L1130.03,493.97 L1130.69,494.33 L1131.34,494.70 L1132.00,495.08 L1132.65,495.46 L1133.29,495.84 L1133.94,496.23 L1134.58,496.62 L1134.60,496.63 M1155.10,510.95 L1155.30,511.10 L1155.87,511.55 L1156.43,511.99 L1157.00,512.43 L1157.56,512.88 L1158.12,513.33 L1158.69,513.78 L1159.25,514.23 L1159.81,514.68 L1160.37,515.13 L1160.94,515.58 L1161.50,516.04 L1162.06,516.49 L1162.62,516.95 L1163.18,517.41 L1163.74,517.87 L1164.30,518.33 L1164.86,518.79 L1165.42,519.25 L1165.99,519.71 L1166.55,520.17 L1167.11,520.63 L1167.67,521.09 L1168.23,521.56 L1168.79,522.02 L1169.35,522.48 L1169.91,522.95 L1170.47,523.41 L1171.03,523.87 L1171.59,524.34 L1172.15,524.80 L1172.71,525.26 L1173.27,525.72 L1173.84,526.19 L1174.40,526.65 L1174.80,526.98 M1193.50,541.53 L1193.77,541.73 L1194.35,542.14 L1194.94,542.55 L1195.52,542.95 L1196.11,543.36 L1196.69,543.76 L1197.28,544.16 L1197.87,544.55 L1198.46,544.95 L1199.05,545.34 L1199.64,545.73 L1200.23,546.11 L1200.83,546.50 L1201.42,546.88 L1202.02,547.26 L1202.62,547.63 L1203.21,548.01 L1203.81,548.38 L1204.42,548.75 L1205.02,549.11 L1205.62,549.47 L1206.23,549.83 L1206.83,550.19 L1207.44,550.55 L1208.05,550.90 L1208.66,551.25 L1209.27,551.59 L1209.89,551.94 L1210.50,552.28 L1211.12,552.62 L1211.74,552.95 L1212.36,553.29 L1212.98,553.62 L1213.60,553.95 L1214.23,554.27 L1214.85,554.59 L1215.10,554.72 M1238.90,564.71 L1239.04,564.76 L1239.72,564.99 L1240.40,565.22 L1241.08,565.44 L1241.76,565.67 L1242.44,565.89 L1243.12,566.11 L1243.81,566.33 L1244.49,566.54 L1245.18,566.76 L1245.86,566.97 L1246.55,567.18 L1247.24,567.39 L1247.93,567.60 L1248.62,567.80 L1249.31,568.01 L1250.00,568.21 L1250.69,568.41 L1251.38,568.60 L1252.08,568.80 L1252.77,568.99 L1253.47,569.19 L1254.16,569.38 L1254.86,569.57 L1255.56,569.75 L1256.26,569.94 L1256.96,570.12 L1257.65,570.30 L1258.35,570.48 L1259.06,570.66 L1259.76,570.84 L1260.46,571.02 L1261.16,571.19 L1261.60,571.30 M1286.50,576.50 L1286.69,576.54 L1287.41,576.66 L1288.12,576.79 L1288.83,576.91 L1289.54,577.04 L1290.25,577.16 L1290.97,577.28 L1291.68,577.41 L1292.39,577.53 L1293.10,577.65 L1293.81,577.76 L1294.53,577.88 L1295.24,578.00 L1295.95,578.11 L1296.66,578.23 L1297.37,578.34 L1298.09,578.46 L1298.80,578.57 L1299.51,578.68 L1300.22,578.79 L1300.93,578.90 L1301.65,579.01 L1302.36,579.12 L1303.07,579.22 L1303.78,579.33 L1304.49,579.44 L1305.21,579.54 L1305.92,579.64 L1306.63,579.75 L1307.34,579.85 L1308.05,579.95 L1308.77,580.05 L1309.48,580.15 L1310.19,580.25 L1310.90,580.35 L1311.61,580.44 L1312.32,580.54 L1313.04,580.63 L1313.75,580.73 L1314.46,580.82 L1315.17,580.92 L1315.88,581.01 L1316.59,581.10 L1317.31,581.19 L1317.40,581.20 M1342.70,583.98 L1342.93,584.00 L1343.65,584.06 L1344.36,584.13 L1345.07,584.19 L1345.78,584.26 L1346.49,584.32 L1347.21,584.39 L1347.92,584.45 L1348.63,584.51 L1349.34,584.57 L1350.05,584.63 L1350.77,584.70 L1351.48,584.76 L1352.19,584.81 L1352.90,584.87 L1353.61,584.93 L1354.33,584.99 L1355.04,585.05 L1355.75,585.11 L1356.46,585.16 L1357.18,585.22 L1357.89,585.27 L1358.60,585.33 L1359.31,585.38 L1360.03,585.44 L1360.74,585.49 L1361.45,585.54 L1362.16,585.60 L1362.88,585.65 L1363.59,585.70 L1364.30,585.75 L1365.01,585.80 L1365.73,585.85 L1366.44,585.90 L1366.50,585.91 M1391.40,587.43 L1391.40,587.43 L1392.11,587.47 L1392.83,587.51 L1393.54,587.55 L1394.26,587.58 L1394.97,587.62 L1395.68,587.66 L1396.40,587.70 L1397.11,587.73 L1397.83,587.77 L1398.54,587.81 L1399.26,587.84 L1399.97,587.88 L1400.68,587.91 L1401.40,587.95 L1402.11,587.98 L1402.83,588.02 L1403.54,588.05 L1404.26,588.09 L1404.97,588.12 L1405.69,588.16 L1406.40,588.19 L1407.12,588.23 L1407.83,588.26 L1408.55,588.29 L1409.26,588.33 L1409.98,588.36 L1410.69,588.39 L1411.41,588.43 L1412.12,588.46 L1412.84,588.49 L1413.55,588.53 L1414.27,588.56 L1414.98,588.59 L1415.70,588.63 L1416.00,588.64 M1440.50,589.75 L1440.78,589.76 L1441.50,589.79 L1442.21,589.82 L1442.93,589.86 L1443.65,589.89 L1444.37,589.92 L1445.09,589.96 L1445.80,589.99 L1446.52,590.03 L1447.24,590.06 L1447.96,590.09 L1448.68,590.13 L1449.40,590.16 L1450.11,590.20 L1450.83,590.23 L1451.55,590.27 L1452.27,590.30 L1452.99,590.34 L1453.71,590.37 L1454.43,590.41 L1455.15,590.44 L1455.87,590.48 L1456.59,590.51 L1457.30,590.55 L1458.02,590.59 L1458.74,590.62 L1459.46,590.66 L1460.18,590.70 L1460.90,590.73 L1461.62,590.77 L1462.34,590.81 L1463.06,590.85 L1463.78,590.89 L1464.50,590.92 L1465.00,590.95" fill="none" stroke="#ed1c24" stroke-width="4.4" stroke-linejoin="round"/>
<path d="M875.97,566.63 L877.17,566.57 L878.36,566.50 L879.56,566.43 L880.75,566.36 L881.95,566.28 L883.14,566.19 L884.34,566.10 L885.53,566.01 L886.72,565.91 L887.92,565.80 L889.11,565.69 L890.31,565.58 L891.50,565.46 L892.70,565.33 L893.89,565.20 L895.08,565.07 L896.27,564.93 L897.47,564.79 L898.66,564.64 L899.85,564.48 L901.04,564.32 L902.23,564.16 L903.42,563.99 L904.61,563.82 L905.80,563.64 L906.99,563.46 L908.17,563.27 L909.36,563.07 L910.55,562.88 L911.73,562.67 L912.92,562.46 L914.10,562.25 L915.28,562.03 L916.46,561.81 L917.64,561.58 L918.82,561.35 L920.00,561.11 L921.18,560.87 L922.36,560.62 L923.53,560.36 L924.71,560.11 L925.88,559.84 L927.06,559.58 L928.23,559.30 L929.40,559.02 L930.57,558.74 L931.73,558.45 L932.90,558.16 L934.06,557.86 L935.23,557.56 L936.39,557.25 L937.55,556.93 L938.71,556.62 L939.87,556.29 L941.02,555.96 L942.18,555.63 L943.33,555.29 L944.48,554.95 L945.63,554.60 L946.78,554.24 L947.92,553.88 L949.07,553.52 L950.21,553.15 L951.35,552.77 L952.49,552.39 L953.63,552.01 L954.76,551.62 L955.90,551.22 L957.03,550.82 L958.16,550.42 L959.29,550.01 L960.41,549.59 L961.53,549.17 L962.65,548.75 L963.77,548.32 L964.89,547.88 L966.00,547.44 L967.12,546.99 L968.23,546.54 L969.33,546.08 L970.44,545.62 L971.54,545.16 L972.64,544.68 L973.74,544.21 L974.84,543.72 L975.93,543.24 L977.02,542.74 L978.11,542.24 L979.19,541.74 L980.28,541.23 L981.36,540.72 L982.43,540.20 L983.51,539.68 L984.58,539.15 L985.65,538.61 L986.72,538.07 L987.78,537.53 L988.84,536.98 L989.90,536.42 L990.95,535.86 L992.01,535.29 L993.06,534.72 L994.10,534.15 L995.14,533.56 L996.18,532.98 L997.22,532.38 L998.25,531.79 L999.28,531.18 L1000.31,530.58 L1001.34,529.96 L1002.36,529.34 L1003.37,528.72 L1004.39,528.09 L1005.40,527.46 L1006.41,526.82 L1007.41,526.17 L1008.41,525.52 L1009.41,524.87 L1010.40,524.20 L1011.39,523.54 L1012.38,522.87 L1013.36,522.19 L1014.34,521.51 L1015.31,520.82 L1016.29,520.13 L1017.25,519.43 L1018.22,518.72 L1019.18,518.02 L1020.13,517.30 L1021.09,516.58 L1022.04,515.86 L1022.98,515.13 L1023.92,514.39 L1024.86,513.65 L1025.79,512.90 L1026.72,512.15 L1027.65,511.39 L1028.57,510.63 L1029.48,509.86 L1030.39,509.09 L1031.30,508.31 L1032.21,507.53 L1033.11,506.74 L1034.00,505.94 L1034.89,505.14 L1035.78,504.33 L1036.66,503.52 L1037.54,502.71 L1038.42,501.89 L1039.29,501.06 L1040.15,500.23 L1041.01,499.40 L1041.87,498.56 L1042.73,497.71 L1043.58,496.86 L1044.42,496.01 L1045.26,495.15 L1046.10,494.29 L1046.94,493.42 L1047.77,492.55 L1048.59,491.68 L1049.42,490.80 L1050.24,489.91 L1051.05,489.03 L1051.86,488.14 L1052.67,487.25 L1053.47,486.35 L1054.27,485.45 L1055.07,484.54 L1055.86,483.64 L1056.65,482.73 L1057.44,481.81 L1058.22,480.90 L1059.00,479.98 L1059.78,479.05 L1060.55,478.13 L1061.32,477.20 L1062.08,476.27 L1062.85,475.33 L1063.61,474.40 L1064.36,473.46 L1065.11,472.52 L1065.86,471.58 L1066.61,470.63 L1067.35,469.68 L1068.09,468.74 L1068.83,467.78 L1069.56,466.83 L1070.29,465.88 L1071.01,464.92 L1071.74,463.96 L1072.46,463.00 L1073.18,462.04 L1073.89,461.08 L1074.60,460.11 L1075.31,459.15 L1076.02,458.18 L1076.72,457.21 L1077.42,456.25 L1078.12,455.28 L1078.82,454.31 L1079.51,453.34 L1080.21,452.37 L1080.90,451.40 L1081.60,450.43 L1082.29,449.46 L1082.99,448.50 L1083.69,447.53 L1084.39,446.57 L1085.10,445.61 L1085.81,444.65 L1086.53,443.69 L1087.25,442.74 L1087.97,441.78 L1088.71,440.84 L1089.45,439.89 L1090.20,438.95 L1090.95,438.02 L1091.72,437.09 L1092.49,436.16 L1093.28,435.24 L1094.08,434.32 L1094.88,433.41 L1095.70,432.51 L1096.54,431.61 L1097.38,430.72 L1098.24,429.83 L1099.11,428.96 L1100.00,428.09 L1100.90,427.23 L1101.82,426.38 L1102.75,425.54 L1103.69,424.73 L1104.65,423.94 L1105.62,423.16 L1106.60,422.42 L1107.59,421.70 L1108.59,421.02 L1109.60,420.36 L1110.62,419.75 L1111.65,419.17 L1112.69,418.64 L1113.74,418.15 L1114.79,417.70 L1115.86,417.31 L1116.93,416.97 L1118.00,416.68 L1119.08,416.45 L1120.17,416.28 L1121.27,416.17 L1122.36,416.13 L1123.46,416.15 L1124.56,416.23 L1125.67,416.36 L1126.77,416.55 L1127.87,416.79 L1128.96,417.08 L1130.06,417.42 L1131.14,417.81 L1132.22,418.24 L1133.29,418.72 L1134.35,419.23 L1135.40,419.78 L1136.44,420.37 L1137.47,420.99 L1138.48,421.64 L1139.47,422.33 L1140.45,423.04 L1141.41,423.77 L1142.35,424.53 L1143.27,425.32 L1144.17,426.12 L1145.06,426.94 L1145.93,427.78 L1146.78,428.63 L1147.61,429.50 L1148.44,430.39 L1149.25,431.29 L1150.05,432.20 L1150.84,433.13 L1151.61,434.06 L1152.38,435.00 L1153.15,435.95 L1153.90,436.90 L1154.65,437.86 L1155.40,438.83 L1156.14,439.79 L1156.88,440.76 L1157.62,441.73 L1158.35,442.70 L1159.09,443.67 L1159.82,444.64 L1160.55,445.61 L1161.28,446.58 L1162.01,447.55 L1162.73,448.53 L1163.46,449.50 L1164.18,450.47 L1164.91,451.44 L1165.63,452.42 L1166.35,453.39 L1167.07,454.36 L1167.79,455.34 L1168.51,456.31 L1169.23,457.28 L1169.95,458.26 L1170.66,459.23 L1171.38,460.20 L1172.09,461.18 L1172.81,462.15 L1173.53,463.12 L1174.24,464.09 L1174.96,465.07 L1175.67,466.04 L1176.39,467.01 L1177.10,467.98 L1177.81,468.95 L1178.53,469.92 L1179.25,470.89 L1179.96,471.85 L1180.68,472.82 L1181.39,473.79 L1182.11,474.75 L1182.83,475.72 L1183.55,476.68 L1184.27,477.64 L1184.99,478.61 L1185.71,479.57 L1186.43,480.53 L1187.15,481.49 L1187.87,482.44 L1188.60,483.40 L1189.33,484.35 L1190.05,485.31 L1190.78,486.26 L1191.51,487.21 L1192.24,488.16 L1192.98,489.11 L1193.71,490.05 L1194.45,491.00 L1195.19,491.94 L1195.93,492.88 L1196.67,493.82 L1197.41,494.76 L1198.16,495.70 L1198.91,496.63 L1199.66,497.56 L1200.41,498.49 L1201.17,499.42 L1201.92,500.35 L1202.68,501.27 L1203.44,502.20 L1204.21,503.12 L1204.98,504.03 L1205.75,504.95 L1206.52,505.86 L1207.30,506.77 L1208.08,507.68 L1208.86,508.59 L1209.64,509.49 L1210.43,510.39 L1211.22,511.29 L1212.02,512.19 L1212.81,513.08 L1213.62,513.97 L1214.42,514.86 L1215.23,515.74 L1216.04,516.62 L1216.86,517.50 L1217.68,518.37 L1218.50,519.23 L1219.33,520.10 L1220.16,520.96 L1220.99,521.81 L1221.83,522.66 L1222.67,523.51 L1223.52,524.35 L1224.37,525.18 L1225.23,526.01 L1226.09,526.83 L1226.96,527.65 L1227.83,528.46 L1228.70,529.27 L1229.58,530.07 L1230.46,530.87 L1231.35,531.65 L1232.25,532.44 L1233.15,533.21 L1234.05,533.98 L1234.96,534.74 L1235.87,535.49 L1236.79,536.24 L1237.72,536.98 L1238.65,537.71 L1239.58,538.43 L1240.52,539.15 L1241.47,539.85 L1242.42,540.55 L1243.38,541.24 L1244.35,541.92 L1245.32,542.60 L1246.29,543.26 L1247.27,543.92 L1248.26,544.56 L1249.26,545.20 L1250.26,545.83 L1251.26,546.45 L1252.27,547.05 L1253.29,547.65 L1254.32,548.25 L1255.35,548.83 L1256.38,549.40 L1257.42,549.97 L1258.47,550.52 L1259.52,551.07 L1260.57,551.61 L1261.64,552.14 L1262.70,552.67 L1263.77,553.18 L1264.85,553.69 L1265.93,554.19 L1267.02,554.68 L1268.11,555.16 L1269.20,555.64 L1270.30,556.11 L1271.40,556.57 L1272.51,557.03 L1273.62,557.47 L1274.74,557.91 L1275.85,558.35 L1276.98,558.78 L1278.10,559.20 L1279.23,559.61 L1280.37,560.02 L1281.50,560.42 L1282.64,560.81 L1283.79,561.20 L1284.93,561.58 L1286.08,561.96 L1287.23,562.33 L1288.39,562.70 L1289.55,563.06 L1290.71,563.41 L1291.87,563.76 L1293.04,564.10 L1294.20,564.44 L1295.37,564.77 L1296.55,565.10 L1297.72,565.42 L1298.90,565.74 L1300.07,566.05 L1301.25,566.36 L1302.44,566.66 L1303.62,566.96 L1304.80,567.26 L1305.99,567.55 L1307.18,567.84 L1308.37,568.12 L1309.55,568.40 L1310.75,568.67 L1311.94,568.94 L1313.13,569.21 L1314.32,569.48 L1315.52,569.74 L1316.71,570.00 L1317.91,570.25 L1319.10,570.50 L1320.30,570.75 L1321.49,570.99 L1322.69,571.24 L1323.88,571.48 L1325.08,571.71 L1326.27,571.95 L1327.47,572.18 L1328.66,572.41 L1329.86,572.64 L1331.05,572.87 L1332.24,573.09 L1333.43,573.31 L1334.63,573.53 L1335.82,573.75 L1337.01,573.97 L1338.19,574.18 L1339.38,574.40 L1340.57,574.61 L1341.76,574.82 L1342.94,575.02 L1344.13,575.23 L1345.31,575.44 L1346.49,575.64 L1347.68,575.84 L1348.86,576.04 L1350.04,576.24 L1351.22,576.43 L1352.40,576.62 L1353.58,576.82 L1354.76,577.01 L1355.94,577.19 L1357.12,577.38 L1358.30,577.57 L1359.48,577.75 L1360.65,577.93 L1361.83,578.11 L1363.01,578.29 L1364.18,578.46 L1365.36,578.64 L1366.53,578.81 L1367.71,578.98 L1368.88,579.15 L1370.06,579.31 L1371.23,579.48 L1372.41,579.64 L1373.58,579.80 L1374.75,579.96 L1375.93,580.12 L1377.10,580.27 L1378.27,580.43 L1379.45,580.58 L1380.62,580.73 L1381.79,580.88 L1382.97,581.02 L1384.14,581.17 L1385.31,581.31 L1386.49,581.45 L1387.66,581.59 L1388.83,581.73 L1390.01,581.86 L1391.18,581.99 L1392.35,582.13 L1393.53,582.25 L1394.70,582.38 L1395.87,582.51 L1397.05,582.63 L1398.22,582.75 L1399.40,582.87 L1400.57,582.99 L1401.75,583.11 L1402.92,583.22 L1404.10,583.34 L1405.28,583.45 L1406.45,583.56 L1407.63,583.66 L1408.81,583.77 L1409.99,583.87 L1411.17,583.97 L1412.34,584.07 L1413.52,584.17 L1414.70,584.26 L1415.88,584.36 L1417.07,584.45 L1418.25,584.54 L1419.43,584.63 L1420.61,584.71 L1421.80,584.80 L1422.98,584.88 L1424.17,584.96 L1425.35,585.04 L1426.54,585.11 L1427.72,585.19 L1428.91,585.26 L1430.10,585.33 L1431.29,585.40 L1432.48,585.47 L1433.67,585.53 L1434.86,585.59 L1436.06,585.65 L1437.25,585.71 L1438.45,585.77 L1439.64,585.83 L1440.84,585.88 L1442.04,585.93 L1443.24,585.98 L1444.44,586.03 L1445.64,586.07 L1446.84,586.11 L1448.04,586.16 L1449.25,586.20 L1450.45,586.23 L1451.66,586.27 L1452.86,586.30 L1454.07,586.33 L1455.28,586.36 L1456.49,586.39 L1457.71,586.42 L1458.92,586.44 L1460.14,586.46 L1461.35,586.48 L1462.57,586.50 L1463.79,586.51 L1465.01,586.53 L1466.23,586.54 L1467.46,586.55 L1468.68,586.56 L1469.91,586.56 L1471.13,586.56 L1472.36,586.57 L1473.60,586.57 L1474.83,586.56 L1476.06,586.56" fill="none" stroke="#ed1c24" stroke-width="12.5" stroke-linejoin="round"/>
<path d="M875.94,231.02 L876.95,231.02 L877.95,231.03 L878.96,231.03 L879.96,231.04 L880.97,231.05 L881.97,231.06 L882.98,231.07 L883.98,231.08 L884.99,231.09 L886.00,231.10 L887.00,231.12 L888.01,231.13 L889.02,231.15 L890.03,231.17 L891.03,231.19 L892.04,231.21 L893.05,231.23 L894.06,231.25 L895.07,231.28 L896.08,231.30 L897.09,231.32 L898.10,231.35 L899.11,231.38 L900.12,231.40 L901.13,231.43 L902.14,231.46 L903.15,231.49 L904.17,231.52 L905.18,231.56 L906.19,231.59 L907.20,231.62 L908.21,231.65 L909.23,231.69 L910.24,231.72 L911.25,231.76 L912.27,231.80 L913.28,231.83 L914.29,231.87 L915.31,231.91 L916.32,231.95 L917.33,231.99 L918.35,232.03 L919.36,232.07 L920.38,232.11 L921.39,232.15 L922.40,232.19 L923.42,232.23 L924.43,232.28 L925.45,232.32 L926.46,232.36 L927.48,232.41 L928.49,232.45 L929.51,232.50 L930.52,232.54 L931.54,232.59 L932.56,232.63 L933.57,232.68 L934.59,232.72 L935.60,232.77 L936.62,232.81 L937.63,232.86 L938.65,232.91 L939.66,232.95 L940.68,233.00 L941.70,233.05 L942.71,233.09 L943.73,233.14 L944.74,233.19 L945.76,233.23 L946.77,233.28 L947.79,233.33 L948.81,233.37 L949.82,233.42 L950.84,233.47 L951.85,233.51 L952.87,233.56 L953.88,233.61 L954.90,233.65 L955.92,233.70 L956.93,233.74 L957.95,233.79 L958.96,233.83 L959.98,233.88 L960.99,233.92 L962.01,233.97 L963.02,234.01 L964.04,234.05 L965.05,234.10 L966.06,234.14 L967.08,234.18 L968.09,234.23 L969.11,234.27 L970.12,234.31 L971.13,234.35 L972.15,234.39 L973.16,234.43 L974.18,234.47 L975.19,234.51 L976.20,234.54 L977.21,234.58 L978.23,234.62 L979.24,234.66 L980.25,234.69 L981.26,234.73 L982.28,234.76 L983.29,234.79 L984.30,234.83 L985.31,234.86 L986.32,234.89 L987.33,234.92 L988.34,234.95 L989.35,234.98 L990.36,235.01 L991.37,235.04 L992.38,235.06 L993.39,235.09 L994.40,235.11 L995.41,235.14 L996.42,235.16 L997.42,235.18 L998.43,235.20 L999.44,235.22 L1000.45,235.24 L1001.45,235.26 L1002.46,235.27 L1003.47,235.29 L1004.47,235.30 L1005.48,235.32 L1006.48,235.33 L1007.49,235.34 L1008.49,235.35 L1009.50,235.36 L1010.50,235.37 L1011.51,235.37 L1012.51,235.38 L1013.51,235.38 L1014.51,235.38 L1015.52,235.38 L1016.52,235.38 L1017.52,235.38 L1018.52,235.38 L1019.52,235.37 L1020.52,235.36 L1021.52,235.35 L1022.52,235.33 L1023.52,235.31 L1024.52,235.29 L1025.51,235.27 L1026.51,235.24 L1027.51,235.21 L1028.51,235.18 L1029.50,235.14 L1030.50,235.10 L1031.49,235.06 L1032.49,235.01 L1033.48,234.96 L1034.47,234.90 L1035.47,234.84 L1036.46,234.78 L1037.45,234.71 L1038.44,234.63 L1039.44,234.56 L1040.43,234.47 L1041.42,234.38 L1042.41,234.29 L1043.40,234.19 L1044.38,234.08 L1045.37,233.97 L1046.36,233.85 L1047.35,233.73 L1048.33,233.60 L1049.32,233.47 L1050.30,233.33 L1051.29,233.18 L1052.27,233.02 L1053.26,232.86 L1054.24,232.69 L1055.22,232.52 L1056.20,232.34 L1057.18,232.15 L1058.16,231.95 L1059.14,231.75 L1060.12,231.54 L1061.10,231.33 L1062.08,231.11 L1063.06,230.88 L1064.03,230.65 L1065.01,230.41 L1065.99,230.17 L1066.96,229.92 L1067.94,229.67 L1068.91,229.41 L1069.89,229.14 L1070.86,228.88 L1071.84,228.60 L1072.81,228.33 L1073.78,228.04 L1074.76,227.76 L1075.73,227.47 L1076.70,227.18 L1077.67,226.88 L1078.64,226.58 L1079.62,226.27 L1080.59,225.97 L1081.56,225.65 L1082.53,225.34 L1083.50,225.02 L1084.47,224.71 L1085.44,224.38 L1086.41,224.06 L1087.38,223.73 L1088.35,223.40 L1089.32,223.07 L1090.28,222.74 L1091.25,222.41 L1092.22,222.07 L1093.19,221.74 L1094.16,221.40 L1095.13,221.06 L1096.10,220.72 L1097.06,220.38 L1098.03,220.03 L1099.00,219.69 L1099.97,219.35 L1100.94,219.01 L1101.90,218.66 L1102.87,218.32 L1103.84,217.98 L1104.81,217.63 L1105.78,217.29 L1106.75,216.95 L1107.71,216.61 L1108.68,216.27 L1109.65,215.93 L1110.62,215.59 L1111.59,215.26 L1112.56,214.92 L1113.53,214.59 L1114.50,214.26 L1115.47,213.93 L1116.44,213.60 L1117.41,213.27 L1118.38,212.95 L1119.35,212.63 L1120.32,212.31 L1121.29,212.00 L1122.26,211.68 L1123.23,211.37 L1124.20,211.07 L1125.18,210.76 L1126.15,210.47 L1127.12,210.17 L1128.09,209.88 L1129.07,209.59 L1130.04,209.31 L1131.02,209.03 L1131.99,208.75 L1132.97,208.48 L1133.94,208.21 L1134.92,207.95 L1135.89,207.70 L1136.87,207.45 L1137.85,207.20 L1138.83,206.96 L1139.80,206.72 L1140.78,206.49 L1141.76,206.27 L1142.74,206.05 L1143.72,205.84 L1144.70,205.63 L1145.69,205.43 L1146.67,205.24 L1147.65,205.05 L1148.63,204.86 L1149.62,204.69 L1150.60,204.51 L1151.59,204.34 L1152.57,204.18 L1153.56,204.02 L1154.54,203.87 L1155.53,203.72 L1156.52,203.58 L1157.50,203.44 L1158.49,203.31 L1159.48,203.18 L1160.47,203.06 L1161.46,202.94 L1162.45,202.83 L1163.44,202.72 L1164.43,202.61 L1165.42,202.51 L1166.41,202.41 L1167.40,202.32 L1168.40,202.23 L1169.39,202.15 L1170.38,202.07 L1171.37,201.99 L1172.37,201.92 L1173.36,201.85 L1174.36,201.79 L1175.35,201.72 L1176.35,201.67 L1177.35,201.61 L1178.34,201.56 L1179.34,201.51 L1180.34,201.47 L1181.33,201.43 L1182.33,201.39 L1183.33,201.36 L1184.33,201.33 L1185.33,201.30 L1186.33,201.27 L1187.33,201.25 L1188.33,201.23 L1189.33,201.21 L1190.33,201.20 L1191.33,201.18 L1192.33,201.17 L1193.33,201.17 L1194.33,201.16 L1195.33,201.16 L1196.34,201.16 L1197.34,201.16 L1198.34,201.17 L1199.35,201.18 L1200.35,201.19 L1201.35,201.20 L1202.36,201.21 L1203.36,201.23 L1204.37,201.25 L1205.37,201.27 L1206.38,201.29 L1207.38,201.31 L1208.39,201.34 L1209.39,201.37 L1210.40,201.40 L1211.41,201.43 L1212.41,201.46 L1213.42,201.50 L1214.43,201.53 L1215.43,201.57 L1216.44,201.61 L1217.45,201.65 L1218.46,201.70 L1219.47,201.74 L1220.47,201.79 L1221.48,201.84 L1222.49,201.88 L1223.50,201.94 L1224.51,201.99 L1225.52,202.04 L1226.53,202.09 L1227.54,202.15 L1228.55,202.21 L1229.56,202.27 L1230.57,202.32 L1231.58,202.38 L1232.59,202.45 L1233.60,202.51 L1234.61,202.57 L1235.62,202.63 L1236.63,202.70 L1237.64,202.77 L1238.65,202.83 L1239.66,202.90 L1240.68,202.97 L1241.69,203.04 L1242.70,203.10 L1243.71,203.17 L1244.72,203.24 L1245.73,203.32 L1246.75,203.39 L1247.76,203.46 L1248.77,203.53 L1249.78,203.60 L1250.79,203.68 L1251.81,203.75 L1252.82,203.82 L1253.83,203.90 L1254.84,203.97 L1255.85,204.05 L1256.87,204.12 L1257.88,204.19 L1258.89,204.27 L1259.90,204.34 L1260.92,204.42 L1261.93,204.49 L1262.94,204.56 L1263.95,204.64 L1264.97,204.71 L1265.98,204.79 L1266.99,204.86 L1268.00,204.93 L1269.02,205.00 L1270.03,205.08 L1271.04,205.15 L1272.05,205.22 L1273.07,205.29 L1274.08,205.36 L1275.09,205.43 L1276.10,205.50 L1277.12,205.57 L1278.13,205.63 L1279.14,205.70 L1280.15,205.77 L1281.16,205.83 L1282.18,205.90 L1283.19,205.96 L1284.20,206.03 L1285.21,206.09 L1286.22,206.15 L1287.24,206.21 L1288.25,206.27 L1289.26,206.33 L1290.27,206.39 L1291.28,206.45 L1292.29,206.51 L1293.30,206.57 L1294.32,206.63 L1295.33,206.69 L1296.34,206.74 L1297.35,206.80 L1298.36,206.85 L1299.37,206.91 L1300.38,206.96 L1301.39,207.02 L1302.40,207.07 L1303.42,207.12 L1304.43,207.17 L1305.44,207.23 L1306.45,207.28 L1307.46,207.33 L1308.47,207.38 L1309.48,207.43 L1310.49,207.48 L1311.50,207.52 L1312.51,207.57 L1313.52,207.62 L1314.53,207.67 L1315.54,207.71 L1316.55,207.76 L1317.57,207.80 L1318.58,207.85 L1319.59,207.89 L1320.60,207.94 L1321.61,207.98 L1322.62,208.02 L1323.63,208.07 L1324.64,208.11 L1325.65,208.15 L1326.66,208.19 L1327.67,208.23 L1328.68,208.27 L1329.69,208.31 L1330.70,208.35 L1331.71,208.39 L1332.72,208.43 L1333.73,208.47 L1334.74,208.51 L1335.75,208.55 L1336.76,208.58 L1337.77,208.62 L1338.78,208.66 L1339.79,208.69 L1340.79,208.73 L1341.80,208.76 L1342.81,208.80 L1343.82,208.83 L1344.83,208.87 L1345.84,208.90 L1346.85,208.93 L1347.86,208.97 L1348.87,209.00 L1349.88,209.03 L1350.89,209.07 L1351.90,209.10 L1352.91,209.13 L1353.92,209.16 L1354.93,209.19 L1355.94,209.22 L1356.95,209.25 L1357.95,209.28 L1358.96,209.31 L1359.97,209.34 L1360.98,209.37 L1361.99,209.40 L1363.00,209.43 L1364.01,209.46 L1365.02,209.48 L1366.03,209.51 L1367.04,209.54 L1368.05,209.57 L1369.05,209.59 L1370.06,209.62 L1371.07,209.65 L1372.08,209.67 L1373.09,209.70 L1374.10,209.73 L1375.11,209.75 L1376.12,209.78 L1377.13,209.80 L1378.13,209.83 L1379.14,209.85 L1380.15,209.88 L1381.16,209.90 L1382.17,209.93 L1383.18,209.95 L1384.19,209.98 L1385.20,210.00 L1386.21,210.02 L1387.21,210.05 L1388.22,210.07 L1389.23,210.09 L1390.24,210.12 L1391.25,210.14 L1392.26,210.16 L1393.27,210.18 L1394.27,210.21 L1395.28,210.23 L1396.29,210.25 L1397.30,210.27 L1398.31,210.30 L1399.32,210.32 L1400.33,210.34 L1401.34,210.36 L1402.34,210.38 L1403.35,210.40 L1404.36,210.43 L1405.37,210.45 L1406.38,210.47 L1407.39,210.49 L1408.40,210.51 L1409.40,210.53 L1410.41,210.55 L1411.42,210.57 L1412.43,210.59 L1413.44,210.61 L1414.45,210.64 L1415.46,210.66 L1416.46,210.68 L1417.47,210.70 L1418.48,210.72 L1419.49,210.74 L1420.50,210.76 L1421.51,210.78 L1422.52,210.80 L1423.52,210.82 L1424.53,210.84 L1425.54,210.86 L1426.55,210.88 L1427.56,210.91 L1428.57,210.93 L1429.58,210.95 L1430.59,210.97 L1431.59,210.99 L1432.60,211.01 L1433.61,211.03 L1434.62,211.05 L1435.63,211.07 L1436.64,211.09 L1437.65,211.11 L1438.65,211.14 L1439.66,211.16 L1440.67,211.18 L1441.68,211.20 L1442.69,211.22 L1443.70,211.24 L1444.71,211.27 L1445.72,211.29 L1446.72,211.31 L1447.73,211.33 L1448.74,211.35 L1449.75,211.38 L1450.76,211.40 L1451.77,211.42 L1452.78,211.44 L1453.79,211.47 L1454.80,211.49 L1455.80,211.51 L1456.81,211.54 L1457.82,211.56 L1458.83,211.58 L1459.84,211.61 L1460.85,211.63 L1461.86,211.66 L1462.87,211.68 L1463.88,211.70 L1464.89,211.73 L1465.89,211.75 L1466.90,211.78 L1467.91,211.80 L1468.92,211.83 L1469.93,211.86 L1470.94,211.88 L1471.95,211.91 L1472.96,211.93 L1473.97,211.96 L1474.98,211.99 L1475.99,212.01" fill="none" stroke="#231f20" stroke-width="4.0" stroke-linejoin="round"/>
<path d="M875.00,243.82 L876.10,243.82 L876.80,243.87 L877.50,243.93 L878.20,243.98 L878.90,244.04 L879.61,244.10 L880.31,244.15 L881.01,244.21 L881.71,244.27 L882.41,244.33 L883.12,244.39 L883.82,244.45 L884.52,244.50 L885.23,244.56 L885.93,244.62 L886.63,244.68 L887.34,244.74 L888.04,244.81 L888.75,244.87 L889.45,244.93 L890.16,244.99 L890.86,245.05 L891.57,245.11 L892.27,245.18 L892.98,245.24 L893.68,245.30 L894.39,245.36 L895.09,245.43 L895.80,245.49 L896.51,245.55 L897.21,245.62 L897.92,245.68 L898.63,245.74 L899.33,245.81 L900.04,245.87 L900.75,245.94 L901.20,245.98 M925.50,248.20 L925.58,248.21 L926.30,248.27 L927.01,248.34 L927.72,248.40 L928.43,248.46 L929.14,248.53 L929.85,248.59 L930.57,248.65 L931.28,248.71 L931.99,248.78 L932.70,248.84 L933.41,248.90 L934.13,248.97 L934.84,249.03 L935.55,249.09 L936.26,249.15 L936.97,249.22 L937.69,249.28 L938.40,249.34 L939.11,249.41 L939.82,249.47 L940.54,249.53 L941.25,249.60 L941.96,249.66 L942.67,249.72 L943.39,249.79 L944.10,249.85 L944.81,249.92 L945.53,249.98 L946.24,250.05 L946.95,250.11 L947.66,250.18 L948.38,250.24 L949.09,250.31 L949.80,250.37 L950.52,250.44 L951.23,250.51 L951.94,250.57 L952.65,250.64 L953.37,250.71 L953.60,250.73 M978.50,253.45 L979.01,253.52 L979.72,253.61 L980.43,253.70 L981.14,253.79 L981.86,253.89 L982.57,253.98 L983.28,254.07 L983.99,254.17 L984.70,254.26 L985.41,254.36 L986.12,254.46 L986.83,254.55 L987.54,254.65 L988.25,254.75 L988.96,254.84 L989.67,254.94 L990.38,255.03 L991.09,255.13 L991.80,255.22 L992.51,255.32 L993.22,255.41 L993.93,255.51 L994.64,255.60 L995.35,255.70 L996.06,255.79 L996.77,255.88 L997.47,255.97 L998.18,256.06 L998.89,256.15 L999.60,256.24 L1000.31,256.32 L1001.02,256.41 L1001.72,256.49 L1002.43,256.57 L1002.70,256.60 M1027.60,258.10 L1027.79,258.10 L1028.50,258.08 L1029.20,258.06 L1029.90,258.04 L1030.60,258.01 L1031.30,257.98 L1032.00,257.95 L1032.70,257.91 L1033.40,257.87 L1034.09,257.82 L1034.79,257.77 L1035.49,257.71 L1036.19,257.65 L1036.89,257.59 L1037.59,257.52 L1038.28,257.44 L1038.98,257.36 L1039.68,257.28 L1040.37,257.19 L1041.07,257.09 L1041.77,256.99 L1042.46,256.89 L1043.16,256.78 L1043.85,256.66 L1044.55,256.54 L1045.24,256.41 L1045.94,256.28 L1046.63,256.14 L1047.33,256.00 L1048.02,255.85 L1048.71,255.70 L1049.41,255.54 L1050.10,255.37 L1050.79,255.20 L1051.49,255.02 L1052.18,254.83 L1052.40,254.77 M1074.50,245.37 L1074.84,245.17 L1075.46,244.80 L1076.08,244.42 L1076.69,244.04 L1077.30,243.65 L1077.91,243.26 L1078.51,242.86 L1079.11,242.46 L1079.70,242.06 L1080.29,241.65 L1080.88,241.24 L1081.46,240.82 L1082.04,240.40 L1082.62,239.98 L1083.20,239.55 L1083.77,239.12 L1084.34,238.68 L1084.90,238.24 L1085.46,237.80 L1086.02,237.35 L1086.58,236.90 L1087.13,236.45 L1087.68,235.99 L1088.23,235.53 L1088.77,235.06 L1089.31,234.59 L1089.85,234.12 L1090.39,233.65 L1090.92,233.17 L1091.45,232.69 L1091.98,232.20 L1092.50,231.71 L1093.02,231.22 L1093.54,230.73 L1094.06,230.23 L1094.57,229.73 L1094.60,229.70 M1143.20,172.99 L1143.53,172.74 L1144.12,172.30 L1144.72,171.87 L1145.32,171.44 L1145.92,171.01 L1146.52,170.59 L1147.13,170.17 L1147.74,169.76 L1148.35,169.35 L1148.96,168.94 L1149.58,168.54 L1150.20,168.15 L1150.82,167.75 L1151.44,167.37 L1152.07,166.98 L1152.70,166.60 L1153.33,166.23 L1153.96,165.86 L1154.60,165.49 L1155.24,165.13 L1155.88,164.78 L1156.52,164.43 L1157.16,164.08 L1157.81,163.74 L1158.45,163.40 L1159.10,163.07 L1159.76,162.75 L1160.41,162.42 L1161.06,162.11 L1161.72,161.80 L1162.38,161.49 L1163.04,161.19 L1163.70,160.90 L1164.36,160.61 L1165.03,160.32 L1165.30,160.21 M1188.60,154.19 L1188.97,154.16 L1189.67,154.10 L1190.36,154.05 L1191.06,154.01 L1191.75,153.97 L1192.45,153.94 L1193.14,153.92 L1193.84,153.90 L1194.53,153.89 L1195.23,153.88 L1195.92,153.88 L1196.62,153.88 L1197.31,153.89 L1198.01,153.91 L1198.71,153.93 L1199.40,153.95 L1200.10,153.98 L1200.79,154.02 L1201.49,154.06 L1202.19,154.10 L1202.88,154.15 L1203.58,154.20 L1204.28,154.25 L1204.98,154.31 L1205.67,154.37 L1206.37,154.44 L1207.07,154.51 L1207.76,154.58 L1208.46,154.65 L1209.16,154.73 L1209.86,154.81 L1210.56,154.89 L1211.25,154.97 L1211.95,155.05 L1212.65,155.14 L1213.35,155.23 L1213.50,155.25 M1237.70,159.01 L1237.85,159.04 L1238.56,159.16 L1239.26,159.29 L1239.96,159.41 L1240.66,159.54 L1241.36,159.66 L1242.07,159.79 L1242.77,159.91 L1243.47,160.04 L1244.17,160.16 L1244.88,160.29 L1245.58,160.41 L1246.28,160.54 L1246.99,160.67 L1247.69,160.79 L1248.39,160.92 L1249.10,161.05 L1249.80,161.18 L1250.50,161.30 L1251.21,161.43 L1251.91,161.56 L1252.61,161.68 L1253.32,161.81 L1254.02,161.94 L1254.72,162.06 L1255.43,162.19 L1256.13,162.32 L1256.84,162.44 L1257.54,162.57 L1258.24,162.69 L1258.95,162.82 L1259.65,162.94 L1260.36,163.07 L1261.06,163.19 L1261.77,163.31 L1262.47,163.43 L1262.60,163.46 M1286.50,167.33 L1287.18,167.43 L1287.89,167.54 L1288.59,167.65 L1289.30,167.75 L1290.01,167.86 L1290.72,167.96 L1291.42,168.06 L1292.13,168.17 L1292.84,168.27 L1293.55,168.37 L1294.25,168.48 L1294.96,168.58 L1295.67,168.68 L1296.38,168.78 L1297.09,168.88 L1297.79,168.98 L1298.50,169.08 L1299.21,169.18 L1299.92,169.28 L1300.63,169.38 L1301.33,169.48 L1302.04,169.58 L1302.75,169.67 L1303.46,169.77 L1304.17,169.87 L1304.87,169.96 L1305.58,170.06 L1306.29,170.16 L1307.00,170.25 L1307.71,170.35 L1308.42,170.44 L1309.13,170.53 L1309.83,170.63 L1310.54,170.72 L1311.25,170.81 L1311.96,170.91 L1312.67,171.00 L1313.38,171.09 L1314.09,171.18 L1314.80,171.27 L1315.51,171.36 L1316.22,171.45 L1316.92,171.54 L1317.63,171.63 L1317.70,171.64 M1342.00,174.51 L1342.48,174.56 L1343.19,174.64 L1343.90,174.72 L1344.61,174.80 L1345.32,174.87 L1346.03,174.95 L1346.74,175.03 L1347.45,175.10 L1348.16,175.18 L1348.87,175.25 L1349.58,175.33 L1350.29,175.40 L1351.00,175.48 L1351.71,175.55 L1352.42,175.63 L1353.13,175.70 L1353.84,175.78 L1354.55,175.85 L1355.26,175.92 L1355.97,176.00 L1356.68,176.07 L1357.39,176.14 L1358.11,176.21 L1358.82,176.29 L1359.53,176.36 L1360.24,176.43 L1360.95,176.50 L1361.66,176.57 L1362.37,176.64 L1363.08,176.71 L1363.79,176.78 L1364.50,176.85 L1365.21,176.92 L1365.92,176.99 L1366.63,177.06 L1367.00,177.10 M1390.90,179.28 L1391.51,179.33 L1392.22,179.39 L1392.93,179.45 L1393.64,179.52 L1394.35,179.58 L1395.06,179.64 L1395.77,179.70 L1396.49,179.76 L1397.20,179.82 L1397.91,179.88 L1398.62,179.93 L1399.33,179.99 L1400.04,180.05 L1400.75,180.11 L1401.46,180.17 L1402.17,180.23 L1402.88,180.29 L1403.59,180.34 L1404.30,180.40 L1405.01,180.46 L1405.72,180.52 L1406.43,180.58 L1407.14,180.63 L1407.85,180.69 L1408.56,180.75 L1409.27,180.80 L1409.98,180.86 L1410.69,180.92 L1411.41,180.97 L1412.12,181.03 L1412.83,181.08 L1413.54,181.14 L1414.25,181.19 L1414.96,181.25 L1415.67,181.31 L1416.38,181.36 L1416.40,181.36 M1440.50,183.15 L1440.50,183.15 L1441.21,183.20 L1441.92,183.25 L1442.63,183.30 L1443.34,183.35 L1444.05,183.40 L1444.75,183.45 L1445.46,183.50 L1446.17,183.55 L1446.88,183.60 L1447.59,183.65 L1448.30,183.70 L1449.01,183.75 L1449.71,183.80 L1450.42,183.85 L1451.13,183.90 L1451.84,183.94 L1452.55,183.99 L1453.26,184.04 L1453.96,184.09 L1454.67,184.14 L1455.38,184.19 L1456.09,184.24 L1456.80,184.29 L1457.50,184.33 L1458.21,184.38 L1458.92,184.43 L1459.63,184.48 L1460.33,184.53 L1461.04,184.57 L1461.75,184.62 L1462.46,184.67 L1463.16,184.72 L1463.87,184.77 L1464.58,184.81 L1465.29,184.86 L1465.30,184.86" fill="none" stroke="#231f20" stroke-width="4.3" stroke-linejoin="round"/>
<path d="M875.84,256.89 L877.05,257.03 L878.26,257.17 L879.46,257.31 L880.67,257.46 L881.86,257.60 L883.06,257.75 L884.25,257.90 L885.44,258.05 L886.63,258.20 L887.82,258.35 L889.00,258.51 L890.18,258.66 L891.36,258.82 L892.53,258.98 L893.71,259.14 L894.88,259.30 L896.05,259.46 L897.21,259.63 L898.38,259.79 L899.54,259.96 L900.70,260.13 L901.86,260.30 L903.02,260.47 L904.17,260.65 L905.32,260.82 L906.48,261.00 L907.63,261.17 L908.77,261.35 L909.92,261.53 L911.07,261.71 L912.21,261.89 L913.35,262.08 L914.50,262.26 L915.64,262.45 L916.78,262.63 L917.91,262.82 L919.05,263.01 L920.19,263.20 L921.32,263.39 L922.45,263.58 L923.59,263.78 L924.72,263.97 L925.85,264.17 L926.98,264.37 L928.11,264.56 L929.24,264.76 L930.37,264.96 L931.50,265.17 L932.63,265.37 L933.76,265.57 L934.88,265.78 L936.01,265.98 L937.14,266.19 L938.26,266.40 L939.39,266.60 L940.52,266.81 L941.65,267.02 L942.77,267.23 L943.90,267.45 L945.03,267.66 L946.15,267.87 L947.28,268.09 L948.41,268.30 L949.54,268.52 L950.67,268.74 L951.80,268.96 L952.93,269.18 L954.06,269.40 L955.19,269.62 L956.32,269.84 L957.45,270.06 L958.59,270.28 L959.72,270.51 L960.86,270.73 L961.99,270.96 L963.13,271.18 L964.27,271.41 L965.41,271.64 L966.55,271.87 L967.69,272.10 L968.84,272.33 L969.98,272.56 L971.13,272.79 L972.28,273.02 L973.42,273.25 L974.58,273.48 L975.73,273.72 L976.88,273.95 L978.04,274.18 L979.20,274.42 L980.36,274.66 L981.52,274.89 L982.68,275.13 L983.85,275.37 L985.02,275.60 L986.19,275.84 L987.36,276.08 L988.53,276.32 L989.71,276.56 L990.89,276.80 L992.07,277.04 L993.25,277.28 L994.44,277.52 L995.63,277.75 L996.82,277.99 L998.01,278.22 L999.20,278.45 L1000.39,278.68 L1001.58,278.91 L1002.78,279.13 L1003.97,279.35 L1005.17,279.56 L1006.36,279.77 L1007.56,279.97 L1008.75,280.17 L1009.95,280.36 L1011.14,280.55 L1012.34,280.73 L1013.53,280.90 L1014.73,281.06 L1015.92,281.22 L1017.11,281.37 L1018.30,281.50 L1019.49,281.64 L1020.68,281.76 L1021.87,281.87 L1023.05,281.97 L1024.23,282.06 L1025.41,282.14 L1026.59,282.20 L1027.77,282.26 L1028.94,282.30 L1030.11,282.33 L1031.28,282.35 L1032.44,282.35 L1033.61,282.35 L1034.76,282.32 L1035.92,282.28 L1037.07,282.23 L1038.22,282.16 L1039.36,282.08 L1040.50,281.98 L1041.64,281.86 L1042.77,281.72 L1043.89,281.57 L1045.02,281.40 L1046.13,281.22 L1047.25,281.01 L1048.35,280.79 L1049.45,280.54 L1050.55,280.28 L1051.64,279.99 L1052.73,279.69 L1053.81,279.37 L1054.88,279.02 L1055.95,278.65 L1057.01,278.26 L1058.06,277.85 L1059.11,277.42 L1060.15,276.97 L1061.18,276.50 L1062.21,276.01 L1063.23,275.51 L1064.24,274.98 L1065.25,274.44 L1066.25,273.87 L1067.24,273.29 L1068.22,272.70 L1069.20,272.08 L1070.16,271.45 L1071.12,270.81 L1072.08,270.15 L1073.02,269.47 L1073.95,268.78 L1074.88,268.07 L1075.79,267.35 L1076.70,266.62 L1077.60,265.87 L1078.49,265.11 L1079.37,264.33 L1080.24,263.55 L1081.11,262.75 L1081.96,261.94 L1082.80,261.12 L1083.63,260.28 L1084.46,259.44 L1085.27,258.59 L1086.07,257.72 L1086.86,256.85 L1087.64,255.97 L1088.42,255.08 L1089.18,254.18 L1089.93,253.27 L1090.66,252.35 L1091.39,251.43 L1092.11,250.50 L1092.81,249.56 L1093.50,248.62 L1094.19,247.67 L1094.85,246.72 L1095.51,245.76 L1096.16,244.79 L1096.79,243.82 L1097.42,242.85 L1098.03,241.87 L1098.64,240.88 L1099.23,239.89 L1099.82,238.90 L1100.40,237.90 L1100.97,236.90 L1101.54,235.89 L1102.10,234.88 L1102.65,233.87 L1103.19,232.85 L1103.74,231.83 L1104.27,230.81 L1104.81,229.78 L1105.34,228.75 L1105.86,227.72 L1106.39,226.68 L1106.91,225.64 L1107.43,224.60 L1107.95,223.55 L1108.47,222.50 L1108.99,221.45 L1109.51,220.40 L1110.03,219.35 L1110.55,218.29 L1111.07,217.23 L1111.59,216.17 L1112.11,215.11 L1112.63,214.05 L1113.14,212.98 L1113.66,211.92 L1114.18,210.85 L1114.70,209.78 L1115.22,208.71 L1115.74,207.64 L1116.25,206.57 L1116.77,205.50 L1117.28,204.43 L1117.80,203.36 L1118.31,202.28 L1118.82,201.21 L1119.33,200.14 L1119.84,199.07 L1120.34,198.00 L1120.85,196.92 L1121.35,195.85 L1121.85,194.78 L1122.35,193.71 L1122.85,192.64 L1123.35,191.57 L1123.85,190.50 L1124.34,189.44 L1124.83,188.37 L1125.33,187.30 L1125.82,186.24 L1126.31,185.17 L1126.80,184.11 L1127.29,183.05 L1127.78,181.99 L1128.27,180.92 L1128.76,179.86 L1129.25,178.80 L1129.74,177.74 L1130.23,176.69 L1130.72,175.63 L1131.21,174.57 L1131.71,173.51 L1132.20,172.46 L1132.70,171.41 L1133.19,170.35 L1133.69,169.30 L1134.19,168.25 L1134.69,167.20 L1135.20,166.15 L1135.70,165.10 L1136.21,164.05 L1136.72,163.01 L1137.23,161.96 L1137.74,160.91 L1138.26,159.87 L1138.78,158.83 L1139.30,157.79 L1139.83,156.75 L1140.36,155.71 L1140.89,154.67 L1141.43,153.63 L1141.96,152.59 L1142.51,151.56 L1143.05,150.52 L1143.61,149.49 L1144.16,148.46 L1144.72,147.43 L1145.28,146.40 L1145.85,145.37 L1146.43,144.34 L1147.00,143.31 L1147.59,142.29 L1148.17,141.27 L1148.77,140.24 L1149.37,139.22 L1149.98,138.21 L1150.59,137.20 L1151.21,136.19 L1151.84,135.19 L1152.48,134.20 L1153.13,133.21 L1153.78,132.23 L1154.45,131.26 L1155.13,130.30 L1155.81,129.35 L1156.51,128.40 L1157.23,127.47 L1157.95,126.56 L1158.69,125.65 L1159.44,124.76 L1160.20,123.88 L1160.98,123.01 L1161.77,122.17 L1162.58,121.33 L1163.40,120.52 L1164.24,119.72 L1165.10,118.94 L1165.97,118.18 L1166.86,117.44 L1167.77,116.72 L1168.69,116.01 L1169.63,115.33 L1170.58,114.67 L1171.55,114.02 L1172.53,113.40 L1173.52,112.80 L1174.53,112.21 L1175.55,111.65 L1176.57,111.11 L1177.61,110.59 L1178.67,110.09 L1179.73,109.61 L1180.79,109.15 L1181.87,108.71 L1182.96,108.30 L1184.05,107.90 L1185.15,107.53 L1186.26,107.18 L1187.37,106.85 L1188.49,106.54 L1189.62,106.26 L1190.74,106.00 L1191.87,105.76 L1193.01,105.54 L1194.15,105.35 L1195.29,105.18 L1196.43,105.03 L1197.57,104.91 L1198.71,104.80 L1199.85,104.73 L1200.99,104.67 L1202.14,104.64 L1203.28,104.63 L1204.42,104.64 L1205.56,104.66 L1206.70,104.71 L1207.84,104.78 L1208.98,104.86 L1210.12,104.96 L1211.26,105.08 L1212.40,105.21 L1213.54,105.36 L1214.68,105.52 L1215.82,105.70 L1216.96,105.89 L1218.10,106.08 L1219.24,106.29 L1220.38,106.51 L1221.52,106.74 L1222.66,106.98 L1223.80,107.23 L1224.94,107.48 L1226.07,107.74 L1227.21,108.01 L1228.35,108.28 L1229.49,108.56 L1230.63,108.84 L1231.76,109.12 L1232.90,109.41 L1234.04,109.69 L1235.18,109.98 L1236.32,110.27 L1237.45,110.56 L1238.59,110.85 L1239.73,111.15 L1240.86,111.44 L1242.00,111.74 L1243.14,112.04 L1244.28,112.34 L1245.41,112.64 L1246.55,112.94 L1247.69,113.24 L1248.82,113.55 L1249.96,113.85 L1251.10,114.16 L1252.23,114.46 L1253.37,114.77 L1254.50,115.08 L1255.64,115.39 L1256.78,115.70 L1257.91,116.01 L1259.05,116.32 L1260.19,116.63 L1261.32,116.94 L1262.46,117.25 L1263.59,117.57 L1264.73,117.88 L1265.87,118.19 L1267.00,118.51 L1268.14,118.82 L1269.27,119.14 L1270.41,119.45 L1271.54,119.77 L1272.68,120.09 L1273.82,120.40 L1274.95,120.72 L1276.09,121.03 L1277.22,121.35 L1278.36,121.66 L1279.49,121.98 L1280.63,122.29 L1281.77,122.61 L1282.90,122.92 L1284.04,123.24 L1285.17,123.55 L1286.31,123.87 L1287.44,124.18 L1288.58,124.49 L1289.72,124.81 L1290.85,125.12 L1291.99,125.43 L1293.12,125.74 L1294.26,126.05 L1295.40,126.36 L1296.53,126.67 L1297.67,126.98 L1298.80,127.28 L1299.94,127.59 L1301.08,127.90 L1302.21,128.20 L1303.35,128.50 L1304.49,128.80 L1305.62,129.11 L1306.76,129.41 L1307.90,129.70 L1309.03,130.00 L1310.17,130.30 L1311.31,130.59 L1312.44,130.89 L1313.58,131.18 L1314.72,131.47 L1315.85,131.76 L1316.99,132.05 L1318.13,132.33 L1319.27,132.62 L1320.40,132.90 L1321.54,133.18 L1322.68,133.46 L1323.82,133.74 L1324.95,134.01 L1326.09,134.29 L1327.23,134.56 L1328.37,134.83 L1329.51,135.10 L1330.65,135.37 L1331.79,135.63 L1332.92,135.90 L1334.06,136.16 L1335.20,136.42 L1336.34,136.68 L1337.48,136.94 L1338.62,137.20 L1339.76,137.45 L1340.90,137.70 L1342.04,137.96 L1343.18,138.21 L1344.32,138.45 L1345.46,138.70 L1346.60,138.95 L1347.74,139.19 L1348.88,139.43 L1350.02,139.67 L1351.16,139.91 L1352.31,140.15 L1353.45,140.38 L1354.59,140.62 L1355.73,140.85 L1356.87,141.08 L1358.01,141.31 L1359.16,141.54 L1360.30,141.76 L1361.44,141.99 L1362.59,142.21 L1363.73,142.43 L1364.87,142.65 L1366.02,142.87 L1367.16,143.09 L1368.30,143.30 L1369.45,143.52 L1370.59,143.73 L1371.74,143.94 L1372.88,144.15 L1374.03,144.36 L1375.17,144.56 L1376.32,144.77 L1377.47,144.97 L1378.61,145.17 L1379.76,145.37 L1380.91,145.57 L1382.05,145.77 L1383.20,145.96 L1384.35,146.16 L1385.49,146.35 L1386.64,146.54 L1387.79,146.73 L1388.94,146.92 L1390.09,147.11 L1391.24,147.29 L1392.39,147.48 L1393.54,147.66 L1394.69,147.84 L1395.84,148.02 L1396.99,148.20 L1398.14,148.37 L1399.29,148.55 L1400.44,148.72 L1401.59,148.89 L1402.74,149.06 L1403.89,149.23 L1405.05,149.40 L1406.20,149.57 L1407.35,149.73 L1408.51,149.90 L1409.66,150.06 L1410.81,150.22 L1411.97,150.38 L1413.12,150.54 L1414.28,150.70 L1415.43,150.85 L1416.59,151.00 L1417.75,151.16 L1418.90,151.31 L1420.06,151.46 L1421.22,151.61 L1422.37,151.75 L1423.53,151.90 L1424.69,152.04 L1425.85,152.19 L1427.01,152.33 L1428.17,152.47 L1429.33,152.61 L1430.49,152.74 L1431.65,152.88 L1432.81,153.02 L1433.97,153.15 L1435.13,153.28 L1436.29,153.41 L1437.45,153.54 L1438.62,153.67 L1439.78,153.80 L1440.94,153.92 L1442.11,154.05 L1443.27,154.17 L1444.43,154.29 L1445.60,154.41 L1446.77,154.53 L1447.93,154.65 L1449.10,154.76 L1450.26,154.88 L1451.43,154.99 L1452.60,155.10 L1453.77,155.22 L1454.93,155.33 L1456.10,155.43 L1457.27,155.54 L1458.44,155.65 L1459.61,155.75 L1460.78,155.86 L1461.95,155.96 L1463.13,156.06 L1464.30,156.16 L1465.47,156.26 L1466.64,156.36 L1467.82,156.45 L1468.99,156.55 L1470.16,156.64 L1471.34,156.73 L1472.51,156.82 L1473.69,156.91 L1474.86,157.00 L1476.04,157.09" fill="none" stroke="#231f20" stroke-width="12.5" stroke-linejoin="round"/>
</g>
<path d="M1101.4,595.0 V356.6" stroke="#2e1814" stroke-width="4.1"/>
<path d="M1101.4,346.5 L1107.6000000000001,357.1 H1095.2 Z" fill="#2e1814"/>
<path d="M1111.9,595.0 V337.2" stroke="#2e1814" stroke-width="4.3"/>
<path d="M1111.9,323.6 L1120.3000000000002,337.7 H1103.5 Z" fill="#2e1814"/>
<path d="M1125.1,595.0 V317.2" stroke="#2e1814" stroke-width="4.5"/>
<path d="M1125.1,299.7 L1135.6999999999998,317.7 H1114.5 Z" fill="#2e1814"/>
<text transform="translate(831.44,89.95) scale(0.9606,1)" font-size="35.03" fill="#231f20">18</text>
<text transform="translate(831.84,203.94) scale(0.9448,1)" font-size="35.53" fill="#231f20">14</text>
<text transform="translate(831.86,317.95) scale(0.9506,1)" font-size="35.03" fill="#231f20">10</text>
<text transform="translate(846.73,432.35) scale(1.0986,1)" font-size="35.31" fill="#231f20">6</text>
<text transform="translate(846.72,546.14) scale(1.1059,1)" font-size="35.53" fill="#231f20">2</text>
<text transform="translate(980.90,630.61) scale(0.9315,1)" font-size="39.41" fill="#231f20">1.0</text>
<text transform="translate(1136.54,631.30) scale(0.8826,1)" font-size="39.55" fill="#231f20">1.5</text>
<text transform="translate(1309.24,631.80) scale(0.9205,1)" font-size="40.25" fill="#231f20">2.0</text>
<text transform="translate(1057.03,668.60) scale(1.0006,1)" font-size="39.39" fill="#231f20">Wavelength</text>
<text transform="translate(1275.27,668.60) scale(0.9967,1)" font-size="39.39" fill="#231f20">(µm)</text>
<text transform="translate(799.50,539.73) rotate(-90) scale(0.8813,1)" font-size="40.55" fill="#231f20">Relative</text>
<text transform="translate(799.50,405.67) rotate(-90) scale(1.0422,1)" font-size="40.55" fill="#231f20">Dielectric</text>
<text transform="translate(799.50,225.84) rotate(-90) scale(0.9928,1)" font-size="40.55" fill="#231f20">Constant</text>
<text transform="translate(1031.45,164.90) scale(0.8453,1)" font-size="33.87" fill="#231f20">Re(ε)</text>
<text transform="translate(991.18,449.20) scale(1.0277,1)" font-size="30.81" fill="#ed1c24">Im(ε)</text>
<text transform="translate(1271.61,353.90) scale(0.9927,1)" font-size="31.83" fill="#231f20">Metal Fill</text>
<text transform="translate(1392.36,403.70) scale(0.9303,1)" font-size="30.23" fill="#231f20">1%</text>
<text transform="translate(1389.86,454.20) scale(1.0030,1)" font-size="29.80" fill="#231f20">3%</text>
<text transform="translate(1391.82,499.41) scale(1.0015,1)" font-size="29.38" fill="#231f20">5%</text>
<path d="M1273,363.9 H1431.2" stroke="#2e1814" stroke-width="1.7"/>
<path d="M1273,393 H1384" stroke="#2e1814" stroke-width="3.9"/>
<path d="M1273,441.9 H1297.8 M1314.5,441.9 H1339.6 M1356,441.9 H1381.2" stroke="#2e1814" stroke-width="4.1"/>
<path d="M1273,489 H1384" stroke="#2e1814" stroke-width="11.9"/>
</svg>
</body></html>
